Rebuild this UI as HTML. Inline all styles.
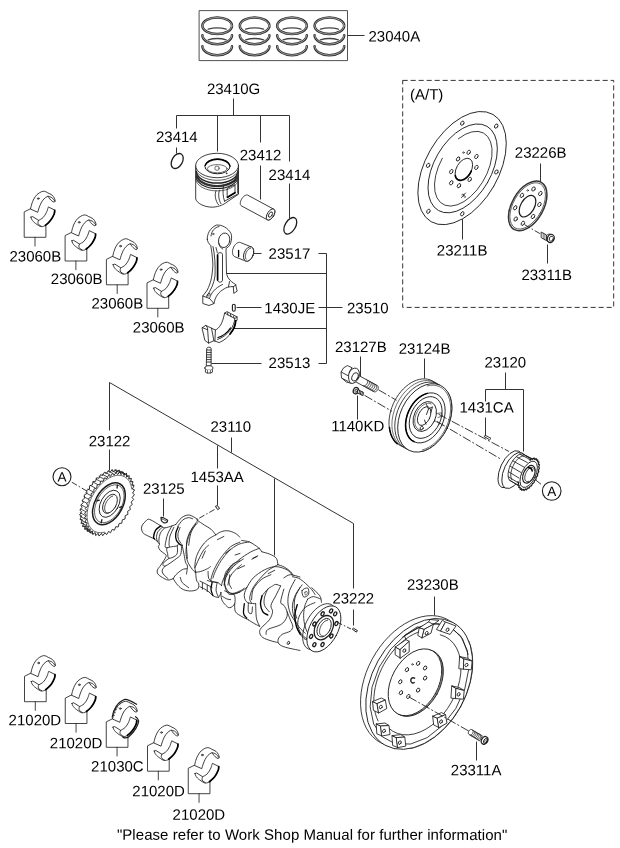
<!DOCTYPE html>
<html><head><meta charset="utf-8">
<style>
html,body{margin:0;padding:0;background:#fff;}
svg{display:block;filter:grayscale(1);}
text{font-family:"Liberation Sans",sans-serif;font-size:15px;fill:#000;}
.l{stroke:#333;stroke-width:1;fill:none;}
.p{stroke:#1c1c1c;stroke-width:0.85;fill:#fff;stroke-linejoin:round;stroke-linecap:round;}
.n{stroke:#1c1c1c;stroke-width:0.85;fill:none;stroke-linejoin:round;stroke-linecap:round;}
.t{stroke:#222;stroke-width:0.65;fill:none;stroke-linecap:round;}
.k{stroke:#000;stroke-width:1.6;fill:none;stroke-linecap:round;}
.dd{stroke:#222;stroke-width:0.9;fill:none;stroke-dasharray:9 2 2 2;}
</style></head>
<body>
<svg width="620" height="848" viewBox="0 0 620 848">
<rect width="620" height="848" fill="#fff"/>
<!--LABELS-->
<g id="labels">
<text transform="translate(368.5 41.5) rotate(0.03)">23040A</text>
<text transform="translate(206.9 94) rotate(0.03)">23410G</text>
<text transform="translate(156 142) rotate(0.03)">23414</text>
<text transform="translate(239.7 160.3) rotate(0.03)">23412</text>
<text transform="translate(268.6 180) rotate(0.03)">23414</text>
<text transform="translate(268.6 258.8) rotate(0.03)">23517</text>
<text transform="translate(264.3 313.3) rotate(0.03)">1430JE</text>
<text transform="translate(347 313.3) rotate(0.03)">23510</text>
<text transform="translate(268.6 368) rotate(0.03)">23513</text>
<text transform="translate(9.5 261.4) rotate(0.03)">23060B</text>
<text transform="translate(50.8 284) rotate(0.03)">23060B</text>
<text transform="translate(91.5 308.5) rotate(0.03)">23060B</text>
<text transform="translate(132.8 332.5) rotate(0.03)">23060B</text>
<text transform="translate(410 99.5) rotate(0.03)">(A/T)</text>
<text transform="translate(436.8 255.4) rotate(0.03)">23211B</text>
<text transform="translate(514.8 157.7) rotate(0.03)">23226B</text>
<text transform="translate(521.4 280) rotate(0.03)">23311B</text>
<text transform="translate(335 352) rotate(0.03)">23127B</text>
<text transform="translate(398.7 353.7) rotate(0.03)">23124B</text>
<text transform="translate(484.5 367.5) rotate(0.03)">23120</text>
<text transform="translate(459.5 412.5) rotate(0.03)">1431CA</text>
<text transform="translate(331.2 431.2) rotate(0.03)">1140KD</text>
<text transform="translate(88.7 446.2) rotate(0.03)">23122</text>
<text transform="translate(210.5 431.7) rotate(0.03)">23110</text>
<text transform="translate(190.5 482) rotate(0.03)">1453AA</text>
<text transform="translate(143 493.7) rotate(0.03)">23125</text>
<text transform="translate(332.4 603.5) rotate(0.03)">23222</text>
<text transform="translate(407 589.7) rotate(0.03)">23230B</text>
<text transform="translate(450.8 775.3) rotate(0.03)">23311A</text>
<text transform="translate(8.6 725.3) rotate(0.03)">21020D</text>
<text transform="translate(49.8 748.3) rotate(0.03)">21020D</text>
<text transform="translate(91.1 771.5) rotate(0.03)">21030C</text>
<text transform="translate(132.3 796.2) rotate(0.03)">21020D</text>
<text transform="translate(172.6 819.7) rotate(0.03)">21020D</text>
<text transform="translate(116.9 839.7) rotate(0.03)" textLength="390.4">"Please refer to Work Shop Manual for further information"</text>
</g>
<!--LEADERS-->
<g id="leaders" class="l">
<path d="M347.5 35.5H364.5"/>
<path d="M233.5 98.5V115.5M176.5 115.5H289.5M176.5 115.5V128.5M176.5 147.5V153.5M217.5 115.5V151.5M260.5 115.5V142.5M260.5 165.5V199.5M289.5 115.5V161.5M289.5 183.5V218.5"/>
<path d="M252.5 253.5H261.5M318.5 253.5H326.5V363.5H318.5M226.5 273.5H326.5M236.5 307.5H261.5M318.5 307.5H342.5M233.5 328.5H326.5M211.5 363.5H261.5"/>
<path d="M462.5 216.5V239.5M540.5 163.5V182.5M547.5 244.5V263.5"/>
<path d="M360.5 356.5V376.5M424.5 358.5V378.5M505.5 372.5V389.5M485.5 401.5V389.5H523.5V451.5M485.5 417.5V437.5M357.5 395.5V419.5"/>
<path d="M109.5 430.5V382.5L353.5 523.5V588.5M353.5 609.5V625.5M109.5 449.5V471.5M231.5 437.5V452.5M217.5 445.5V468.5M217.5 485.5V505.5M274.5 478.5V555.5M163.5 498.5V516.5M434.5 596.5V615.5M476.5 741.5V760.5"/>
</g>
<defs></defs>
<g id="g_rings">
<rect class="n" x="199.5" y="10.6" width="148" height="50" style="stroke:#333"/>
<g style="stroke:#303030;stroke-width:2.5;fill:none;stroke-linecap:round"><ellipse cx="217.2" cy="25.8" rx="14.8" ry="8.3"/><path d="M202.4 35.2A14.8 9 0 0 0 232 35.2"/><path d="M202.4 46.2A14.8 9 0 0 0 232 46.2"/></g>
<g style="stroke:#c8c8c8;stroke-width:0.7;fill:none;stroke-linecap:round"><ellipse cx="217.2" cy="25.8" rx="14.8" ry="8.3"/><path d="M202.4 35.2A14.8 9 0 0 0 232 35.2"/><path d="M202.4 46.2A14.8 9 0 0 0 232 46.2"/></g>
<path class="t" d="M208.2 29.2Q217.2 26.6 226.2 29.2M208.2 39.8Q217.2 37.2 226.2 39.8" style="stroke-width:1.3;stroke:#444"/>
<g style="stroke:#303030;stroke-width:2.5;fill:none;stroke-linecap:round"><ellipse cx="254.6" cy="25.8" rx="14.8" ry="8.3"/><path d="M239.8 35.2A14.8 9 0 0 0 269.4 35.2"/><path d="M239.8 46.2A14.8 9 0 0 0 269.4 46.2"/></g>
<g style="stroke:#c8c8c8;stroke-width:0.7;fill:none;stroke-linecap:round"><ellipse cx="254.6" cy="25.8" rx="14.8" ry="8.3"/><path d="M239.8 35.2A14.8 9 0 0 0 269.4 35.2"/><path d="M239.8 46.2A14.8 9 0 0 0 269.4 46.2"/></g>
<path class="t" d="M245.6 29.2Q254.6 26.6 263.6 29.2M245.6 39.8Q254.6 37.2 263.6 39.8" style="stroke-width:1.3;stroke:#444"/>
<g style="stroke:#303030;stroke-width:2.5;fill:none;stroke-linecap:round"><ellipse cx="292" cy="25.8" rx="14.8" ry="8.3"/><path d="M277.2 35.2A14.8 9 0 0 0 306.8 35.2"/><path d="M277.2 46.2A14.8 9 0 0 0 306.8 46.2"/></g>
<g style="stroke:#c8c8c8;stroke-width:0.7;fill:none;stroke-linecap:round"><ellipse cx="292" cy="25.8" rx="14.8" ry="8.3"/><path d="M277.2 35.2A14.8 9 0 0 0 306.8 35.2"/><path d="M277.2 46.2A14.8 9 0 0 0 306.8 46.2"/></g>
<path class="t" d="M283 29.2Q292 26.6 301 29.2M283 39.8Q292 37.2 301 39.8" style="stroke-width:1.3;stroke:#444"/>
<g style="stroke:#303030;stroke-width:2.5;fill:none;stroke-linecap:round"><ellipse cx="329.4" cy="25.8" rx="14.8" ry="8.3"/><path d="M314.6 35.2A14.8 9 0 0 0 344.2 35.2"/><path d="M314.6 46.2A14.8 9 0 0 0 344.2 46.2"/></g>
<g style="stroke:#c8c8c8;stroke-width:0.7;fill:none;stroke-linecap:round"><ellipse cx="329.4" cy="25.8" rx="14.8" ry="8.3"/><path d="M314.6 35.2A14.8 9 0 0 0 344.2 35.2"/><path d="M314.6 46.2A14.8 9 0 0 0 344.2 46.2"/></g>
<path class="t" d="M320.4 29.2Q329.4 26.6 338.4 29.2M320.4 39.8Q329.4 37.2 338.4 39.8" style="stroke-width:1.3;stroke:#444"/>
</g>
<g id="g_piston_group">
<ellipse class="n" cx="177.2" cy="161" rx="5.2" ry="8.1" transform="rotate(30 177.2 161)" style="stroke-width:1.3"/>
<ellipse class="n" cx="290.3" cy="225.8" rx="5.2" ry="9.1" transform="rotate(31 290.3 225.8)" style="stroke-width:1.3"/>
<g transform="translate(0 0.7)">
<path class="p" d="M195.7 165V198.3C197 203 205 206.5 212.5 206.5C220 206 224 203.5 226 202L238.5 193.5V165Z"/>
<ellipse class="p" cx="217.1" cy="164.8" rx="21.4" ry="12.2"/>
<path d="M195.8 167.4 A21.3 12.2 0 0 0 238.4 167.4" fill="none" stroke="#333" stroke-width="0.8"/>
<path d="M196.15 170.2 A20.95 12.2 0 0 0 238.05 170.2" fill="none" stroke="#222" stroke-width="1.5"/>
<path d="M196.55 173.2 A20.55 12.2 0 0 0 237.65 173.2" fill="none" stroke="#333" stroke-width="2.3"/>
<path d="M195.95 175.6 A21.15 12.2 0 0 0 238.25 175.6" fill="none" stroke="#222" stroke-width="1.1"/>
<path d="M195.8 178 A21.3 12.2 0 0 0 238.4 178" fill="none" stroke="#444" stroke-width="0.8"/>
<ellipse class="n" cx="217.5" cy="165.6" rx="12.6" ry="7.5" style="stroke-width:1"/>
<path class="k" d="M205.2 164.5A12.6 7.5 0 0 1 229.8 164.5" style="stroke-width:1.5"/>
<ellipse class="t" cx="217.3" cy="168" rx="9.9" ry="4.1"/>
<circle class="t" cx="217" cy="167.5" r="2.2"/>
<circle cx="226.7" cy="172.6" r="0.9" fill="#333"/>
<path class="n" d="M216 190C214.5 193 215 200 218.5 204M219.5 189.5C218 193 218.5 199 221 203M223.5 184.5C222.5 190 223 196 224.5 200.5M226 184L236.5 179.5M224.5 200.5L237.5 193.5M227.5 187.5L235 184V192L227.5 196.5Z"/>
<path class="k" d="M227.5 196.5L235 192" style="stroke-width:1.8"/>
<path class="k" d="M238 170V192" style="stroke-width:1.5;stroke:#333"/>
</g>
<path class="p" d="M241.31 205.76 L240.98 205.48 L240.7 205.13 L240.49 204.69 L240.36 204.18 L240.29 203.61 L240.3 202.98 L240.38 202.31 L240.53 201.61 L240.76 200.9 L241.05 200.17 L241.4 199.45 L241.8 198.75 L242.25 198.08 L242.75 197.45 L243.27 196.87 L243.82 196.36 L244.38 195.91 L244.94 195.55 L245.5 195.26 L246.05 195.07 L246.56 194.97 L247.05 194.97 L247.49 195.06 L247.89 195.24 L273.89 209.24 L273.89 209.24 L274.22 209.52 L274.5 209.87 L274.71 210.31 L274.84 210.82 L274.91 211.39 L274.9 212.02 L274.82 212.69 L274.67 213.39 L274.44 214.1 L274.15 214.83 L273.8 215.55 L273.4 216.25 L272.95 216.92 L272.45 217.55 L271.93 218.13 L271.38 218.64 L270.82 219.09 L270.26 219.45 L269.7 219.74 L269.15 219.93 L268.64 220.03 L268.15 220.03 L267.71 219.94 L267.31 219.76 Z"/>
<ellipse class="p" cx="270.6" cy="214.5" rx="3.3" ry="6.2" transform="rotate(32 270.6 214.5)" />
<ellipse class="n" cx="270.5" cy="214.6" rx="1.6" ry="3" transform="rotate(32 270.5 214.6)" />
</g>
<g id="g_conrod">
<path class="p" d="M207.3 239.2C207 234 210 228 216.3 225.1C222 224.5 228 228 231 233.5C232.5 238 231 244 228.7 246.5L226 248.5L226.5 273C227 277 229.5 281 235.5 284.4L237.2 291.1L233.8 293.4L233.3 286.6C229 286.5 226 287.5 224.2 288.9C218.5 292 215 297 214 303.5L209 305.5L202.8 303.5V296L207.3 290C210.5 283 212 279 212.9 265.2C212.5 256 211.5 250 210.7 245.4C208.5 243.5 207.5 241.5 207.3 239.2Z"/>
<path class="n" d="M211 236C211.5 231 214.5 227.5 219 226.5M213 246.5C214.8 255 215.5 265 215 276C214 283.5 211 290 206.5 296.5M202.8 296L209.5 298.5L214 303.5M209.5 298.5C211 293 215 288 222.5 284.5M216 247.5C216.5 250 217 251 217.2 252.5M233.3 286.6L236 285M229.5 281.5L228.5 286.8"/>
<ellipse class="p" cx="224.2" cy="240.3" rx="5.6" ry="7.3" transform="rotate(12 224.2 240.3)" />
<path class="n" d="M218.8 243.5C219.5 246.5 221 248.3 222.7 249"/>
<path class="n" d="M217.5 254.5C217.5 252 222.5 252 222.5 254.5V280C222.5 283 217.5 283 217.5 280Z"/>
<path class="k" d="M217.6 255V280" style="stroke-width:1.7"/>
<circle class="t" cx="213.2" cy="234" r="0.7"/>
<ellipse class="t" cx="208.5" cy="294.8" rx="1.8" ry="1" transform="rotate(-35 208.5 294.8)"/>
<path class="p" d="M234.75 256.65 L234.22 256.36 L233.75 255.96 L233.34 255.45 L233 254.84 L232.74 254.14 L232.57 253.36 L232.48 252.52 L232.48 251.63 L232.57 250.7 L232.74 249.76 L233 248.81 L233.33 247.88 L233.74 246.97 L234.22 246.11 L234.75 245.31 L235.33 244.58 L235.95 243.94 L236.6 243.4 L237.26 242.96 L237.93 242.64 L238.6 242.43 L239.25 242.35 L239.87 242.39 L240.45 242.55 L251.45 246.95 L251.45 246.95 L251.98 247.24 L252.45 247.64 L252.86 248.15 L253.2 248.76 L253.46 249.46 L253.63 250.24 L253.72 251.08 L253.72 251.97 L253.63 252.9 L253.46 253.84 L253.2 254.79 L252.87 255.72 L252.46 256.63 L251.98 257.49 L251.45 258.29 L250.87 259.02 L250.25 259.66 L249.6 260.2 L248.94 260.64 L248.27 260.96 L247.6 261.17 L246.95 261.25 L246.33 261.21 L245.75 261.05 Z"/>
<ellipse class="p" cx="248.6" cy="254" rx="4.6" ry="7.6" transform="rotate(22 248.6 254)" />
<path class="n" d="M246.08 259.14 L245.86 258.79 L245.67 258.38 L245.53 257.94 L245.42 257.46 L245.36 256.94 L245.33 256.39 L245.35 255.82 L245.42 255.24 L245.52 254.64 L245.66 254.04 L245.84 253.44 L246.06 252.85 L246.32 252.27 L246.6 251.72 L246.92 251.19 L247.26 250.68 L247.62 250.22 L248 249.8 L248.39 249.42 L248.8 249.09 L249.21 248.82 L249.62 248.6 L250.04 248.44 L250.44 248.34" />
<path class="k" d="M238.6 250.5V256.5" style="stroke-width:1.3"/>
<rect class="p" x="232.4" y="304.2" width="2.8" height="7" rx="1.4" style="stroke-width:1.1"/>
<path class="p" d="M202.3 327.6L205.7 325.4L215.4 330C219 328.5 222.5 324 224.6 313.1L227 311.6L237.1 316.9V320.3L235.7 320.8C236 327 230 338 219.2 342.6L214.9 341.1L213.9 340.7L208.6 343.1L205.2 340.7Z"/>
<path class="n" d="M215.4 330L214.9 341.1M224.6 313.1L234.8 318.5C234.5 326 228 336 217.5 339.5M205.7 325.4L207.5 327.8L208.6 343.1M202.3 327.6L207.5 329.8M211.5 328.2L213.9 340.7M234.8 318.5L237.1 316.9M227.5 312.8L228 315M230.5 314.2L231 316.8M233.5 316L234 318"/>
<path class="k" d="M235.6 321C235.5 326.5 233 330.5 230 334" style="stroke-width:1.8"/>
<path class="k" d="M218 337.5C223 336 227.5 332.5 230.5 328" style="stroke-width:1.3"/>
<path class="p" d="M206.7 348.5C206.7 346.7 211.1 346.7 211.1 348.5V365.8H206.7Z"/>
<path class="t" d="M206.7 350H211.1M206.7 352.4H211.1M206.7 354.8H211.1M206.7 357.2H211.1M206.7 359.6H211.1M206.7 362H211.1" style="stroke-width:0.9"/>
<path class="p" d="M204.8 368C204.8 366.2 206.5 365.8 208.9 365.8C211.3 365.8 213 366.2 213 368C213 369.8 211 370.3 208.9 370.3C206.8 370.3 204.8 369.8 204.8 368Z"/>
<path class="p" d="M205.4 370V372.2C206.5 373.4 211.3 373.4 212.4 372.2V370"/>
<path class="t" d="M207.5 370.4V373M210.4 370.4V373"/>
</g>
<g id="g_bearings">
<g transform="translate(0 0)"><path class="n" d="M30.6 208.7L24.2 211.9V237.3H45.9V225.6M35 237.3V246" style="stroke:#222"/><path class="p" d="M30.59 208.68C30.79 207.87 31.26 205.45 31.8 203.84C32.33 202.23 32.94 200.55 33.81 199C34.69 197.46 35.76 195.78 37.04 194.57C38.32 193.36 40.2 192.28 41.47 191.75C42.75 191.21 43.62 191.14 44.7 191.34C45.78 191.54 46.72 192.35 47.93 192.95C49.14 193.56 50.88 194.1 51.96 194.97C53.03 195.84 53.84 197.19 54.38 198.2C54.92 199.2 55.25 200.37 55.18 201.02C55.12 201.66 54.51 202.07 53.97 202.07C53.44 202.07 52.63 201.53 51.96 201.02C51.29 200.51 50.55 199.72 49.94 199C49.34 198.29 48.6 197.12 48.33 196.75L48.33 196.75C48.13 196.72 47.86 196.21 47.12 196.58C46.38 196.96 44.9 197.93 43.89 199C42.89 200.08 41.88 201.56 41.07 203.04C40.26 204.51 39.59 206.4 39.05 207.87C38.52 209.35 38.05 211.23 37.85 211.91Z"/><path class="n" d="M48.09 196.26C48.6 196.42 50.26 196.75 51.15 197.23C52.04 197.71 52.79 198.52 53.41 199.16C54.03 199.81 54.62 200.78 54.86 201.1"/><ellipse class="t" cx="38.25" cy="198.6" rx="0.9" ry="0.7" style="stroke-width:0.9"/><path class="p" d="M30.99 217.15 L32.6 216.58 L38.65 220.37C39.39 219.9 41.81 218.83 43.09 217.55C44.36 216.27 45.51 214.26 46.31 212.71C47.12 211.17 47.59 209.25 47.93 208.28C48.26 207.31 48.26 207.13 48.33 206.91L54.78 210.13C54.71 210.7 54.85 212.15 54.38 213.52C53.91 214.89 52.9 216.88 51.96 218.36C51.02 219.84 49.81 221.25 48.73 222.39C47.66 223.53 46.45 224.54 45.51 225.21C44.57 225.88 44.03 226.25 43.09 226.42C42.15 226.6 41.34 226.93 39.86 226.26C38.38 225.59 35.56 223.51 34.22 222.39C32.87 221.27 32.33 220.44 31.8 219.57C31.26 218.69 31.12 217.55 30.99 217.15Z"/><path class="n" d="M38.65 220.37C38.53 220.71 37.91 221.68 37.93 222.39C37.94 223.1 38.17 224.02 38.73 224.65C39.3 225.28 40.88 225.93 41.31 226.18"/><path class="k" d="M54.7 210.29C54.62 210.86 54.7 212.31 54.22 213.68C53.73 215.05 52.74 217.04 51.8 218.52C50.86 220 49.65 221.42 48.57 222.55C47.5 223.68 45.88 224.84 45.35 225.29" style="stroke-width:1.7"/></g>
<g transform="translate(40.9 23.7)"><path class="n" d="M30.6 208.7L24.2 211.9V237.3H45.9V225.6M35 237.3V246" style="stroke:#222"/><path class="p" d="M30.59 208.68C30.79 207.87 31.26 205.45 31.8 203.84C32.33 202.23 32.94 200.55 33.81 199C34.69 197.46 35.76 195.78 37.04 194.57C38.32 193.36 40.2 192.28 41.47 191.75C42.75 191.21 43.62 191.14 44.7 191.34C45.78 191.54 46.72 192.35 47.93 192.95C49.14 193.56 50.88 194.1 51.96 194.97C53.03 195.84 53.84 197.19 54.38 198.2C54.92 199.2 55.25 200.37 55.18 201.02C55.12 201.66 54.51 202.07 53.97 202.07C53.44 202.07 52.63 201.53 51.96 201.02C51.29 200.51 50.55 199.72 49.94 199C49.34 198.29 48.6 197.12 48.33 196.75L48.33 196.75C48.13 196.72 47.86 196.21 47.12 196.58C46.38 196.96 44.9 197.93 43.89 199C42.89 200.08 41.88 201.56 41.07 203.04C40.26 204.51 39.59 206.4 39.05 207.87C38.52 209.35 38.05 211.23 37.85 211.91Z"/><path class="n" d="M48.09 196.26C48.6 196.42 50.26 196.75 51.15 197.23C52.04 197.71 52.79 198.52 53.41 199.16C54.03 199.81 54.62 200.78 54.86 201.1"/><ellipse class="t" cx="38.25" cy="198.6" rx="0.9" ry="0.7" style="stroke-width:0.9"/><path class="p" d="M30.99 217.15 L32.6 216.58 L38.65 220.37C39.39 219.9 41.81 218.83 43.09 217.55C44.36 216.27 45.51 214.26 46.31 212.71C47.12 211.17 47.59 209.25 47.93 208.28C48.26 207.31 48.26 207.13 48.33 206.91L54.78 210.13C54.71 210.7 54.85 212.15 54.38 213.52C53.91 214.89 52.9 216.88 51.96 218.36C51.02 219.84 49.81 221.25 48.73 222.39C47.66 223.53 46.45 224.54 45.51 225.21C44.57 225.88 44.03 226.25 43.09 226.42C42.15 226.6 41.34 226.93 39.86 226.26C38.38 225.59 35.56 223.51 34.22 222.39C32.87 221.27 32.33 220.44 31.8 219.57C31.26 218.69 31.12 217.55 30.99 217.15Z"/><path class="n" d="M38.65 220.37C38.53 220.71 37.91 221.68 37.93 222.39C37.94 223.1 38.17 224.02 38.73 224.65C39.3 225.28 40.88 225.93 41.31 226.18"/><path class="k" d="M54.7 210.29C54.62 210.86 54.7 212.31 54.22 213.68C53.73 215.05 52.74 217.04 51.8 218.52C50.86 220 49.65 221.42 48.57 222.55C47.5 223.68 45.88 224.84 45.35 225.29" style="stroke-width:1.7"/></g>
<g transform="translate(82.2 47.5)"><path class="n" d="M30.6 208.7L24.2 211.9V237.3H45.9V225.6M35 237.3V246" style="stroke:#222"/><path class="p" d="M30.59 208.68C30.79 207.87 31.26 205.45 31.8 203.84C32.33 202.23 32.94 200.55 33.81 199C34.69 197.46 35.76 195.78 37.04 194.57C38.32 193.36 40.2 192.28 41.47 191.75C42.75 191.21 43.62 191.14 44.7 191.34C45.78 191.54 46.72 192.35 47.93 192.95C49.14 193.56 50.88 194.1 51.96 194.97C53.03 195.84 53.84 197.19 54.38 198.2C54.92 199.2 55.25 200.37 55.18 201.02C55.12 201.66 54.51 202.07 53.97 202.07C53.44 202.07 52.63 201.53 51.96 201.02C51.29 200.51 50.55 199.72 49.94 199C49.34 198.29 48.6 197.12 48.33 196.75L48.33 196.75C48.13 196.72 47.86 196.21 47.12 196.58C46.38 196.96 44.9 197.93 43.89 199C42.89 200.08 41.88 201.56 41.07 203.04C40.26 204.51 39.59 206.4 39.05 207.87C38.52 209.35 38.05 211.23 37.85 211.91Z"/><path class="n" d="M48.09 196.26C48.6 196.42 50.26 196.75 51.15 197.23C52.04 197.71 52.79 198.52 53.41 199.16C54.03 199.81 54.62 200.78 54.86 201.1"/><ellipse class="t" cx="38.25" cy="198.6" rx="0.9" ry="0.7" style="stroke-width:0.9"/><path class="p" d="M30.99 217.15 L32.6 216.58 L38.65 220.37C39.39 219.9 41.81 218.83 43.09 217.55C44.36 216.27 45.51 214.26 46.31 212.71C47.12 211.17 47.59 209.25 47.93 208.28C48.26 207.31 48.26 207.13 48.33 206.91L54.78 210.13C54.71 210.7 54.85 212.15 54.38 213.52C53.91 214.89 52.9 216.88 51.96 218.36C51.02 219.84 49.81 221.25 48.73 222.39C47.66 223.53 46.45 224.54 45.51 225.21C44.57 225.88 44.03 226.25 43.09 226.42C42.15 226.6 41.34 226.93 39.86 226.26C38.38 225.59 35.56 223.51 34.22 222.39C32.87 221.27 32.33 220.44 31.8 219.57C31.26 218.69 31.12 217.55 30.99 217.15Z"/><path class="n" d="M38.65 220.37C38.53 220.71 37.91 221.68 37.93 222.39C37.94 223.1 38.17 224.02 38.73 224.65C39.3 225.28 40.88 225.93 41.31 226.18"/><path class="k" d="M54.7 210.29C54.62 210.86 54.7 212.31 54.22 213.68C53.73 215.05 52.74 217.04 51.8 218.52C50.86 220 49.65 221.42 48.57 222.55C47.5 223.68 45.88 224.84 45.35 225.29" style="stroke-width:1.7"/></g>
<g transform="translate(122.8 71)"><path class="n" d="M30.6 208.7L24.2 211.9V237.3H45.9V225.6M35 237.3V246" style="stroke:#222"/><path class="p" d="M30.59 208.68C30.79 207.87 31.26 205.45 31.8 203.84C32.33 202.23 32.94 200.55 33.81 199C34.69 197.46 35.76 195.78 37.04 194.57C38.32 193.36 40.2 192.28 41.47 191.75C42.75 191.21 43.62 191.14 44.7 191.34C45.78 191.54 46.72 192.35 47.93 192.95C49.14 193.56 50.88 194.1 51.96 194.97C53.03 195.84 53.84 197.19 54.38 198.2C54.92 199.2 55.25 200.37 55.18 201.02C55.12 201.66 54.51 202.07 53.97 202.07C53.44 202.07 52.63 201.53 51.96 201.02C51.29 200.51 50.55 199.72 49.94 199C49.34 198.29 48.6 197.12 48.33 196.75L48.33 196.75C48.13 196.72 47.86 196.21 47.12 196.58C46.38 196.96 44.9 197.93 43.89 199C42.89 200.08 41.88 201.56 41.07 203.04C40.26 204.51 39.59 206.4 39.05 207.87C38.52 209.35 38.05 211.23 37.85 211.91Z"/><path class="n" d="M48.09 196.26C48.6 196.42 50.26 196.75 51.15 197.23C52.04 197.71 52.79 198.52 53.41 199.16C54.03 199.81 54.62 200.78 54.86 201.1"/><ellipse class="t" cx="38.25" cy="198.6" rx="0.9" ry="0.7" style="stroke-width:0.9"/><path class="p" d="M30.99 217.15 L32.6 216.58 L38.65 220.37C39.39 219.9 41.81 218.83 43.09 217.55C44.36 216.27 45.51 214.26 46.31 212.71C47.12 211.17 47.59 209.25 47.93 208.28C48.26 207.31 48.26 207.13 48.33 206.91L54.78 210.13C54.71 210.7 54.85 212.15 54.38 213.52C53.91 214.89 52.9 216.88 51.96 218.36C51.02 219.84 49.81 221.25 48.73 222.39C47.66 223.53 46.45 224.54 45.51 225.21C44.57 225.88 44.03 226.25 43.09 226.42C42.15 226.6 41.34 226.93 39.86 226.26C38.38 225.59 35.56 223.51 34.22 222.39C32.87 221.27 32.33 220.44 31.8 219.57C31.26 218.69 31.12 217.55 30.99 217.15Z"/><path class="n" d="M38.65 220.37C38.53 220.71 37.91 221.68 37.93 222.39C37.94 223.1 38.17 224.02 38.73 224.65C39.3 225.28 40.88 225.93 41.31 226.18"/><path class="k" d="M54.7 210.29C54.62 210.86 54.7 212.31 54.22 213.68C53.73 215.05 52.74 217.04 51.8 218.52C50.86 220 49.65 221.42 48.57 222.55C47.5 223.68 45.88 224.84 45.35 225.29" style="stroke-width:1.7"/></g>
<g transform="translate(0.3 464.4)"><path class="n" d="M30.6 208.7L24.2 211.9V237.3H45.9V225.6M35 237.3V246" style="stroke:#222"/><path class="p" d="M30.59 208.68C30.79 207.87 31.26 205.45 31.8 203.84C32.33 202.23 32.94 200.55 33.81 199C34.69 197.46 35.76 195.78 37.04 194.57C38.32 193.36 40.2 192.28 41.47 191.75C42.75 191.21 43.62 191.14 44.7 191.34C45.78 191.54 46.72 192.35 47.93 192.95C49.14 193.56 50.88 194.1 51.96 194.97C53.03 195.84 53.84 197.19 54.38 198.2C54.92 199.2 55.25 200.37 55.18 201.02C55.12 201.66 54.51 202.07 53.97 202.07C53.44 202.07 52.63 201.53 51.96 201.02C51.29 200.51 50.55 199.72 49.94 199C49.34 198.29 48.6 197.12 48.33 196.75L48.33 196.75C48.13 196.72 47.86 196.21 47.12 196.58C46.38 196.96 44.9 197.93 43.89 199C42.89 200.08 41.88 201.56 41.07 203.04C40.26 204.51 39.59 206.4 39.05 207.87C38.52 209.35 38.05 211.23 37.85 211.91Z"/><path class="n" d="M48.09 196.26C48.6 196.42 50.26 196.75 51.15 197.23C52.04 197.71 52.79 198.52 53.41 199.16C54.03 199.81 54.62 200.78 54.86 201.1"/><ellipse class="t" cx="38.25" cy="198.6" rx="0.9" ry="0.7" style="stroke-width:0.9"/><path class="p" d="M30.99 217.15 L32.6 216.58 L38.65 220.37C39.39 219.9 41.81 218.83 43.09 217.55C44.36 216.27 45.51 214.26 46.31 212.71C47.12 211.17 47.59 209.25 47.93 208.28C48.26 207.31 48.26 207.13 48.33 206.91L54.78 210.13C54.71 210.7 54.85 212.15 54.38 213.52C53.91 214.89 52.9 216.88 51.96 218.36C51.02 219.84 49.81 221.25 48.73 222.39C47.66 223.53 46.45 224.54 45.51 225.21C44.57 225.88 44.03 226.25 43.09 226.42C42.15 226.6 41.34 226.93 39.86 226.26C38.38 225.59 35.56 223.51 34.22 222.39C32.87 221.27 32.33 220.44 31.8 219.57C31.26 218.69 31.12 217.55 30.99 217.15Z"/><path class="n" d="M38.65 220.37C38.53 220.71 37.91 221.68 37.93 222.39C37.94 223.1 38.17 224.02 38.73 224.65C39.3 225.28 40.88 225.93 41.31 226.18"/><path class="k" d="M54.7 210.29C54.62 210.86 54.7 212.31 54.22 213.68C53.73 215.05 52.74 217.04 51.8 218.52C50.86 220 49.65 221.42 48.57 222.55C47.5 223.68 45.88 224.84 45.35 225.29" style="stroke-width:1.7"/></g>
<g transform="translate(41.05 486.2)"><path class="n" d="M30.6 208.7L24.2 211.9V237.3H45.9V225.6M35 237.3V246" style="stroke:#222"/><path class="p" d="M30.59 208.68C30.79 207.87 31.26 205.45 31.8 203.84C32.33 202.23 32.94 200.55 33.81 199C34.69 197.46 35.76 195.78 37.04 194.57C38.32 193.36 40.2 192.28 41.47 191.75C42.75 191.21 43.62 191.14 44.7 191.34C45.78 191.54 46.72 192.35 47.93 192.95C49.14 193.56 50.88 194.1 51.96 194.97C53.03 195.84 53.84 197.19 54.38 198.2C54.92 199.2 55.25 200.37 55.18 201.02C55.12 201.66 54.51 202.07 53.97 202.07C53.44 202.07 52.63 201.53 51.96 201.02C51.29 200.51 50.55 199.72 49.94 199C49.34 198.29 48.6 197.12 48.33 196.75L48.33 196.75C48.13 196.72 47.86 196.21 47.12 196.58C46.38 196.96 44.9 197.93 43.89 199C42.89 200.08 41.88 201.56 41.07 203.04C40.26 204.51 39.59 206.4 39.05 207.87C38.52 209.35 38.05 211.23 37.85 211.91Z"/><path class="n" d="M48.09 196.26C48.6 196.42 50.26 196.75 51.15 197.23C52.04 197.71 52.79 198.52 53.41 199.16C54.03 199.81 54.62 200.78 54.86 201.1"/><ellipse class="t" cx="38.25" cy="198.6" rx="0.9" ry="0.7" style="stroke-width:0.9"/><path class="p" d="M30.99 217.15 L32.6 216.58 L38.65 220.37C39.39 219.9 41.81 218.83 43.09 217.55C44.36 216.27 45.51 214.26 46.31 212.71C47.12 211.17 47.59 209.25 47.93 208.28C48.26 207.31 48.26 207.13 48.33 206.91L54.78 210.13C54.71 210.7 54.85 212.15 54.38 213.52C53.91 214.89 52.9 216.88 51.96 218.36C51.02 219.84 49.81 221.25 48.73 222.39C47.66 223.53 46.45 224.54 45.51 225.21C44.57 225.88 44.03 226.25 43.09 226.42C42.15 226.6 41.34 226.93 39.86 226.26C38.38 225.59 35.56 223.51 34.22 222.39C32.87 221.27 32.33 220.44 31.8 219.57C31.26 218.69 31.12 217.55 30.99 217.15Z"/><path class="n" d="M38.65 220.37C38.53 220.71 37.91 221.68 37.93 222.39C37.94 223.1 38.17 224.02 38.73 224.65C39.3 225.28 40.88 225.93 41.31 226.18"/><path class="k" d="M54.7 210.29C54.62 210.86 54.7 212.31 54.22 213.68C53.73 215.05 52.74 217.04 51.8 218.52C50.86 220 49.65 221.42 48.57 222.55C47.5 223.68 45.88 224.84 45.35 225.29" style="stroke-width:1.7"/></g>
<g transform="translate(82.05 510)"><path class="n" d="M30.6 208.7L24.2 211.9V237.3H45.9V225.6M35 237.3V246" style="stroke:#222"/><path class="p" d="M30.59 208.68C30.79 207.87 31.26 205.45 31.8 203.84C32.33 202.23 32.94 200.55 33.81 199C34.69 197.46 35.76 195.78 37.04 194.57C38.32 193.36 40.2 192.28 41.47 191.75C42.75 191.21 43.62 191.14 44.7 191.34C45.78 191.54 46.72 192.35 47.93 192.95C49.14 193.56 50.88 194.1 51.96 194.97C53.03 195.84 53.84 197.19 54.38 198.2C54.92 199.2 55.25 200.37 55.18 201.02C55.12 201.66 54.51 202.07 53.97 202.07C53.44 202.07 52.63 201.53 51.96 201.02C51.29 200.51 50.55 199.72 49.94 199C49.34 198.29 48.6 197.12 48.33 196.75L48.33 196.75C48.13 196.72 47.86 196.21 47.12 196.58C46.38 196.96 44.9 197.93 43.89 199C42.89 200.08 41.88 201.56 41.07 203.04C40.26 204.51 39.59 206.4 39.05 207.87C38.52 209.35 38.05 211.23 37.85 211.91Z"/><path class="n" d="M48.09 196.26C48.6 196.42 50.26 196.75 51.15 197.23C52.04 197.71 52.79 198.52 53.41 199.16C54.03 199.81 54.62 200.78 54.86 201.1"/><ellipse class="t" cx="38.25" cy="198.6" rx="0.9" ry="0.7" style="stroke-width:0.9"/><path class="p" d="M30.99 217.15 L32.6 216.58 L38.65 220.37C39.39 219.9 41.81 218.83 43.09 217.55C44.36 216.27 45.51 214.26 46.31 212.71C47.12 211.17 47.59 209.25 47.93 208.28C48.26 207.31 48.26 207.13 48.33 206.91L54.78 210.13C54.71 210.7 54.85 212.15 54.38 213.52C53.91 214.89 52.9 216.88 51.96 218.36C51.02 219.84 49.81 221.25 48.73 222.39C47.66 223.53 46.45 224.54 45.51 225.21C44.57 225.88 44.03 226.25 43.09 226.42C42.15 226.6 41.34 226.93 39.86 226.26C38.38 225.59 35.56 223.51 34.22 222.39C32.87 221.27 32.33 220.44 31.8 219.57C31.26 218.69 31.12 217.55 30.99 217.15Z"/><path class="n" d="M38.65 220.37C38.53 220.71 37.91 221.68 37.93 222.39C37.94 223.1 38.17 224.02 38.73 224.65C39.3 225.28 40.88 225.93 41.31 226.18"/><path class="k" d="M54.7 210.29C54.62 210.86 54.7 212.31 54.22 213.68C53.73 215.05 52.74 217.04 51.8 218.52C50.86 220 49.65 221.42 48.57 222.55C47.5 223.68 45.88 224.84 45.35 225.29" style="stroke-width:1.7"/></g>
<g transform="translate(82.05 510)"><path class="n" d="M30.2 207C31 199.5 35.8 191.8 42.8 189.4C45 189 48 190.3 54.5 194.2M53.5 206.8C55.5 208 56.5 209.5 56.6 211C56.5 214 53 221.5 46.5 227C45 227.8 42.5 228 41 227.4" style="stroke-width:1.3"/><path class="t" d="M31.2 205L32.5 205.6M32 202L33.4 202.7M33.2 199L34.6 199.8M34.8 196.2L36 197.2M36.8 193.6L38 194.6M39.2 191.6L40.2 192.8"/></g>
<g transform="translate(123.3 533.9)"><path class="n" d="M30.6 208.7L24.2 211.9V237.3H45.9V225.6M35 237.3V246" style="stroke:#222"/><path class="p" d="M30.59 208.68C30.79 207.87 31.26 205.45 31.8 203.84C32.33 202.23 32.94 200.55 33.81 199C34.69 197.46 35.76 195.78 37.04 194.57C38.32 193.36 40.2 192.28 41.47 191.75C42.75 191.21 43.62 191.14 44.7 191.34C45.78 191.54 46.72 192.35 47.93 192.95C49.14 193.56 50.88 194.1 51.96 194.97C53.03 195.84 53.84 197.19 54.38 198.2C54.92 199.2 55.25 200.37 55.18 201.02C55.12 201.66 54.51 202.07 53.97 202.07C53.44 202.07 52.63 201.53 51.96 201.02C51.29 200.51 50.55 199.72 49.94 199C49.34 198.29 48.6 197.12 48.33 196.75L48.33 196.75C48.13 196.72 47.86 196.21 47.12 196.58C46.38 196.96 44.9 197.93 43.89 199C42.89 200.08 41.88 201.56 41.07 203.04C40.26 204.51 39.59 206.4 39.05 207.87C38.52 209.35 38.05 211.23 37.85 211.91Z"/><path class="n" d="M48.09 196.26C48.6 196.42 50.26 196.75 51.15 197.23C52.04 197.71 52.79 198.52 53.41 199.16C54.03 199.81 54.62 200.78 54.86 201.1"/><ellipse class="t" cx="38.25" cy="198.6" rx="0.9" ry="0.7" style="stroke-width:0.9"/><path class="p" d="M30.99 217.15 L32.6 216.58 L38.65 220.37C39.39 219.9 41.81 218.83 43.09 217.55C44.36 216.27 45.51 214.26 46.31 212.71C47.12 211.17 47.59 209.25 47.93 208.28C48.26 207.31 48.26 207.13 48.33 206.91L54.78 210.13C54.71 210.7 54.85 212.15 54.38 213.52C53.91 214.89 52.9 216.88 51.96 218.36C51.02 219.84 49.81 221.25 48.73 222.39C47.66 223.53 46.45 224.54 45.51 225.21C44.57 225.88 44.03 226.25 43.09 226.42C42.15 226.6 41.34 226.93 39.86 226.26C38.38 225.59 35.56 223.51 34.22 222.39C32.87 221.27 32.33 220.44 31.8 219.57C31.26 218.69 31.12 217.55 30.99 217.15Z"/><path class="n" d="M38.65 220.37C38.53 220.71 37.91 221.68 37.93 222.39C37.94 223.1 38.17 224.02 38.73 224.65C39.3 225.28 40.88 225.93 41.31 226.18"/><path class="k" d="M54.7 210.29C54.62 210.86 54.7 212.31 54.22 213.68C53.73 215.05 52.74 217.04 51.8 218.52C50.86 220 49.65 221.42 48.57 222.55C47.5 223.68 45.88 224.84 45.35 225.29" style="stroke-width:1.7"/></g>
<g transform="translate(164.05 556.4)"><path class="n" d="M30.6 208.7L24.2 211.9V237.3H45.9V225.6M35 237.3V246" style="stroke:#222"/><path class="p" d="M30.59 208.68C30.79 207.87 31.26 205.45 31.8 203.84C32.33 202.23 32.94 200.55 33.81 199C34.69 197.46 35.76 195.78 37.04 194.57C38.32 193.36 40.2 192.28 41.47 191.75C42.75 191.21 43.62 191.14 44.7 191.34C45.78 191.54 46.72 192.35 47.93 192.95C49.14 193.56 50.88 194.1 51.96 194.97C53.03 195.84 53.84 197.19 54.38 198.2C54.92 199.2 55.25 200.37 55.18 201.02C55.12 201.66 54.51 202.07 53.97 202.07C53.44 202.07 52.63 201.53 51.96 201.02C51.29 200.51 50.55 199.72 49.94 199C49.34 198.29 48.6 197.12 48.33 196.75L48.33 196.75C48.13 196.72 47.86 196.21 47.12 196.58C46.38 196.96 44.9 197.93 43.89 199C42.89 200.08 41.88 201.56 41.07 203.04C40.26 204.51 39.59 206.4 39.05 207.87C38.52 209.35 38.05 211.23 37.85 211.91Z"/><path class="n" d="M48.09 196.26C48.6 196.42 50.26 196.75 51.15 197.23C52.04 197.71 52.79 198.52 53.41 199.16C54.03 199.81 54.62 200.78 54.86 201.1"/><ellipse class="t" cx="38.25" cy="198.6" rx="0.9" ry="0.7" style="stroke-width:0.9"/><path class="p" d="M30.99 217.15 L32.6 216.58 L38.65 220.37C39.39 219.9 41.81 218.83 43.09 217.55C44.36 216.27 45.51 214.26 46.31 212.71C47.12 211.17 47.59 209.25 47.93 208.28C48.26 207.31 48.26 207.13 48.33 206.91L54.78 210.13C54.71 210.7 54.85 212.15 54.38 213.52C53.91 214.89 52.9 216.88 51.96 218.36C51.02 219.84 49.81 221.25 48.73 222.39C47.66 223.53 46.45 224.54 45.51 225.21C44.57 225.88 44.03 226.25 43.09 226.42C42.15 226.6 41.34 226.93 39.86 226.26C38.38 225.59 35.56 223.51 34.22 222.39C32.87 221.27 32.33 220.44 31.8 219.57C31.26 218.69 31.12 217.55 30.99 217.15Z"/><path class="n" d="M38.65 220.37C38.53 220.71 37.91 221.68 37.93 222.39C37.94 223.1 38.17 224.02 38.73 224.65C39.3 225.28 40.88 225.93 41.31 226.18"/><path class="k" d="M54.7 210.29C54.62 210.86 54.7 212.31 54.22 213.68C53.73 215.05 52.74 217.04 51.8 218.52C50.86 220 49.65 221.42 48.57 222.55C47.5 223.68 45.88 224.84 45.35 225.29" style="stroke-width:1.7"/></g>
</g>
<g id="g_AT">
<rect x="402.7" y="80.4" width="211" height="227" fill="none" stroke="#333" stroke-width="1" stroke-dasharray="5 3"/>
<ellipse class="p" cx="462.1" cy="168.1" rx="36.5" ry="61.9" transform="rotate(30 462.1 168.1)" />
<ellipse class="n" cx="462.7" cy="168.4" rx="28.6" ry="48.6" transform="rotate(30 462.7 168.4)" />
<path class="n" d="M458.46 138.75 L465.2 134.36 L471.85 131.87 L478.02 131.39 L483.38 132.96 L487.64 136.5 L490.57 141.8 L491.99 148.58 L491.85 156.47 L490.13 165.03 L486.94 173.79 L482.45 182.27 L476.91 190 L470.62 196.57 L463.93 201.6 L457.21 204.83 L450.82 206.07 L445.11 205.26 L440.41 202.45 L436.96 197.78 L434.96 191.51 L434.51 183.99 L435.65 175.63 L438.3 166.89 L442.33 158.25" />
<ellipse class="n" cx="463.9" cy="169.3" rx="7.4" ry="12" transform="rotate(30 463.9 169.3)" />
<path class="k" d="M471.25 171.14 L470.75 172.2 L470.18 173.23 L469.54 174.22 L468.86 175.16 L468.12 176.05 L467.35 176.87 L466.54 177.62 L465.71 178.29 L464.86 178.87 L464 179.37 L463.14 179.76 L462.28 180.05 L461.45 180.24 L460.63 180.33 L459.85 180.3 L459.1 180.18 L458.41 179.94 L457.76 179.61 L457.18 179.17 L456.66 178.65 L456.2 178.03 L455.83 177.32 L455.53 176.54 L455.31 175.69" style="stroke-width:1.7"/>
<ellipse class="n" cx="462.3" cy="123.2" rx="1.5" ry="2.3" transform="rotate(30 462.3 123.2)" />
<ellipse class="n" cx="496.2" cy="126.1" rx="1.5" ry="2.3" transform="rotate(30 496.2 126.1)" />
<ellipse class="n" cx="496.4" cy="172" rx="1.5" ry="2.3" transform="rotate(30 496.4 172)" />
<ellipse class="n" cx="462.3" cy="213.8" rx="1.5" ry="2.3" transform="rotate(30 462.3 213.8)" />
<ellipse class="n" cx="428.4" cy="211.3" rx="1.5" ry="2.3" transform="rotate(30 428.4 211.3)" />
<ellipse class="n" cx="428.1" cy="165.4" rx="1.5" ry="2.3" transform="rotate(30 428.1 165.4)" />
<ellipse class="n" cx="468.7" cy="152.3" rx="1.5" ry="2.3" transform="rotate(30 468.7 152.3)" />
<ellipse class="n" cx="476.4" cy="156.5" rx="1.5" ry="2.3" transform="rotate(30 476.4 156.5)" />
<ellipse class="n" cx="476.4" cy="167.4" rx="1.5" ry="2.3" transform="rotate(30 476.4 167.4)" />
<ellipse class="n" cx="469.7" cy="179.4" rx="1.5" ry="2.3" transform="rotate(30 469.7 179.4)" />
<ellipse class="n" cx="459" cy="185.7" rx="1.5" ry="2.3" transform="rotate(30 459 185.7)" />
<ellipse class="n" cx="451.3" cy="182.8" rx="1.5" ry="2.3" transform="rotate(30 451.3 182.8)" />
<ellipse class="n" cx="451.3" cy="171.6" rx="1.5" ry="2.3" transform="rotate(30 451.3 171.6)" />
<ellipse class="n" cx="458.1" cy="159" rx="1.5" ry="2.3" transform="rotate(30 458.1 159)" />
<circle class="t" cx="463.5" cy="152.6" r="0.8"/>
<path class="t" d="M461.5 197.5L465.5 193M461.8 194.6C463 193.4 464.5 194.5 463.4 196.2C464.6 195 466.3 196.3 464.8 197.8" style="stroke-width:0.9"/>
<ellipse class="p" cx="527.7" cy="205.9" rx="15.75" ry="27.2" transform="rotate(30 527.7 205.9)" style="stroke-width:1.5;stroke:#333"/>
<ellipse class="t" cx="527.7" cy="205.9" rx="14.4" ry="25.4" transform="rotate(30 527.7 205.9)" />
<ellipse class="n" cx="527.5" cy="206.2" rx="6.8" ry="11.8" transform="rotate(30 527.5 206.2)" style="stroke-width:1.2"/>
<ellipse class="n" cx="533.5" cy="189" rx="1.5" ry="2.3" transform="rotate(30 533.5 189)" />
<ellipse class="n" cx="540.3" cy="193.5" rx="1.5" ry="2.3" transform="rotate(30 540.3 193.5)" />
<ellipse class="n" cx="539.4" cy="204.5" rx="1.5" ry="2.3" transform="rotate(30 539.4 204.5)" />
<ellipse class="n" cx="533" cy="216.5" rx="1.5" ry="2.3" transform="rotate(30 533 216.5)" />
<ellipse class="n" cx="522.9" cy="223.3" rx="1.5" ry="2.3" transform="rotate(30 522.9 223.3)" />
<ellipse class="n" cx="515.7" cy="219" rx="1.5" ry="2.3" transform="rotate(30 515.7 219)" />
<ellipse class="n" cx="515.2" cy="207.8" rx="1.5" ry="2.3" transform="rotate(30 515.2 207.8)" />
<ellipse class="n" cx="521.9" cy="195.4" rx="1.5" ry="2.3" transform="rotate(30 521.9 195.4)" />
<circle class="t" cx="527.7" cy="190.4" r="0.8"/>
<path class="dd" d="M524.8 224.8L541.6 234.6" style="stroke-dasharray:6 2 1.5 2"/>
<path class="p" d="M541.5 232.2L546.5 235V240.6L541.5 237.8Z"/>
<path class="t" d="M543.2 233.2V238.8M544.9 234.2V239.8"/>
<ellipse class="p" cx="550.8" cy="238.4" rx="3.4" ry="4.2" transform="rotate(20 550.8 238.4)" style="stroke-width:1.2"/>
<ellipse class="n" cx="551.3" cy="238.7" rx="2" ry="2.6" transform="rotate(20 551.3 238.7)" />
<path class="n" d="M546.5 235.5C547.5 234.2 549 233.8 550.5 234.2M546.5 240.6C547.5 242 549 242.6 550.5 242.6"/>
</g>
<g id="g_pulley_group">
<path class="p" d="M356.22 374.15 L377.32 385.55 L377.32 385.55 L377.58 385.73 L377.81 385.96 L377.99 386.24 L378.14 386.55 L378.24 386.9 L378.3 387.28 L378.31 387.68 L378.27 388.1 L378.19 388.53 L378.06 388.95 L377.9 389.37 L377.69 389.78 L377.45 390.17 L377.17 390.53 L376.87 390.86 L376.55 391.15 L376.21 391.39 L375.86 391.59 L375.5 391.74 L375.15 391.83 L374.81 391.87 L374.48 391.85 L374.16 391.77 L373.88 391.65 L352.78 380.25 Z"/>
<path class="t" d="M375.76 384.67 L376.01 384.85 L376.24 385.08 L376.43 385.35 L376.57 385.67 L376.67 386.02 L376.73 386.4 L376.74 386.8 L376.7 387.21 L376.62 387.64 L376.5 388.07 L376.33 388.49 L376.12 388.9 L375.88 389.28 L375.6 389.64 L375.3 389.97 L374.98 390.26 L374.64 390.51 L374.29 390.7 L373.94 390.85 L373.59 390.94 L373.24 390.98 L372.91 390.96 L372.6 390.89 L372.31 390.76" style="stroke-width:0.9"/>
<path class="t" d="M373.93 383.63 L374.19 383.81 L374.41 384.04 L374.6 384.32 L374.74 384.63 L374.84 384.98 L374.9 385.36 L374.91 385.76 L374.88 386.18 L374.8 386.61 L374.67 387.03 L374.5 387.45 L374.29 387.86 L374.05 388.25 L373.78 388.61 L373.48 388.94 L373.15 389.23 L372.81 389.47 L372.46 389.67 L372.11 389.82 L371.76 389.91 L371.41 389.95 L371.08 389.93 L370.77 389.85 L370.48 389.73" style="stroke-width:0.9"/>
<path class="t" d="M372.1 382.6 L372.36 382.78 L372.58 383.01 L372.77 383.28 L372.91 383.6 L373.02 383.95 L373.07 384.33 L373.08 384.73 L373.05 385.15 L372.97 385.57 L372.84 386 L372.67 386.42 L372.47 386.83 L372.22 387.21 L371.95 387.58 L371.65 387.9 L371.33 388.19 L370.99 388.44 L370.64 388.64 L370.28 388.78 L369.93 388.87 L369.58 388.91 L369.25 388.89 L368.94 388.82 L368.65 388.69" style="stroke-width:0.9"/>
<path class="t" d="M370.27 381.57 L370.53 381.75 L370.76 381.97 L370.94 382.25 L371.09 382.56 L371.19 382.91 L371.25 383.29 L371.26 383.69 L371.22 384.11 L371.14 384.54 L371.01 384.96 L370.85 385.39 L370.64 385.79 L370.4 386.18 L370.12 386.54 L369.82 386.87 L369.5 387.16 L369.16 387.4 L368.81 387.6 L368.45 387.75 L368.1 387.84 L367.76 387.88 L367.43 387.86 L367.11 387.79 L366.83 387.66" style="stroke-width:0.9"/>
<path class="t" d="M368.45 380.53 L368.7 380.71 L368.93 380.94 L369.11 381.22 L369.26 381.53 L369.36 381.88 L369.42 382.26 L369.43 382.66 L369.39 383.08 L369.31 383.5 L369.19 383.93 L369.02 384.35 L368.81 384.76 L368.57 385.15 L368.29 385.51 L367.99 385.83 L367.67 386.12 L367.33 386.37 L366.98 386.57 L366.63 386.71 L366.27 386.81 L365.93 386.84 L365.6 386.83 L365.29 386.75 L365 386.62" style="stroke-width:0.9"/>
<path class="t" d="M366.62 379.5 L366.88 379.68 L367.1 379.91 L367.29 380.18 L367.43 380.5 L367.53 380.85 L367.59 381.22 L367.6 381.63 L367.57 382.04 L367.48 382.47 L367.36 382.9 L367.19 383.32 L366.98 383.73 L366.74 384.11 L366.47 384.47 L366.16 384.8 L365.84 385.09 L365.5 385.34 L365.15 385.53 L364.8 385.68 L364.45 385.77 L364.1 385.81 L363.77 385.79 L363.46 385.72 L363.17 385.59" style="stroke-width:0.9"/>
<ellipse class="p" cx="353.6" cy="375.8" rx="5.4" ry="8" transform="rotate(22 353.6 375.8)" />
<ellipse class="n" cx="355" cy="376.9" rx="2.9" ry="4.4" transform="rotate(24 355 376.9)" />
<path class="p" d="M341.2 372L343.5 367.9L347.4 365.6L352.2 367.8C349.5 370 348.2 374 348.6 378C348.9 380.6 349.6 382.2 350.4 383.1L346.3 382L341.8 378.1Z"/>
<path class="n" d="M341.2 372L347.8 375.6M341.8 378.1L348 381.4"/>
<ellipse class="p" cx="355.9" cy="390.6" rx="2.6" ry="3.3" transform="rotate(20 355.9 390.6)" style="stroke-width:1.2"/>
<ellipse class="n" cx="356.2" cy="390.7" rx="1.2" ry="1.6" transform="rotate(20 356.2 390.7)" />
<path class="p" d="M358.3 389.8L363.6 392.6L363 395.6L357.6 393Z"/>
<path class="t" d="M359.6 390.4L359 393.6M361 391.2L360.4 394.3M362.4 391.9L361.8 395" style="stroke-width:0.9"/>
<path class="p" d="M413.68 446.61 L410.93 447.16 L408.23 447.35 L405.62 447.18 L403.11 446.65 L400.74 445.77 L398.54 444.55 L396.51 442.99 L394.7 441.13 L393.1 438.96 L391.75 436.53 L390.66 433.85 L389.83 430.95 L389.28 427.87 L389.01 424.63 L389.02 421.27 L389.32 417.82 L389.9 414.32 L390.76 410.81 L391.88 407.33 L393.26 403.9 L394.87 400.57 L396.71 397.38 L398.75 394.34 L400.98 391.51 L403.36 388.9 L405.88 386.55 L408.5 384.47 L411.21 382.7 L413.97 381.25 L416.74 380.13 L419.52 379.35 L422.25 378.93 L424.92 378.87 L427.5 379.17 L429.96 379.83 L432.27 380.83 L434.42 382.18 L436.37 383.85 L438.11 385.82 L439.61 388.09 L448.31 392.89 L449.23 394.65 L450.02 396.54 L450.68 398.54 L451.2 400.65 L451.58 402.84 L451.82 405.12 L451.92 407.46 L451.87 409.86 L451.68 412.3 L451.35 414.77 L450.88 417.25 L450.27 419.74 L449.52 422.22 L448.65 424.68 L447.64 427.1 L446.52 429.47 L445.28 431.78 L443.94 434.02 L442.49 436.17 L440.95 438.23 L439.33 440.18 L437.62 442.01 L435.85 443.71 L434.03 445.28 L432.15 446.7 L430.23 447.97 L428.29 449.08 L426.32 450.03 L424.35 450.81 L422.38 451.41 Z"/>
<path class="n" d="M412.58 450.5 L408.81 449.82 L405.35 448.36 L402.27 446.16 L399.65 443.26 L397.55 439.73 L396.02 435.66 L395.09 431.13 L394.78 426.27 L395.1 421.17 L396.05 415.95 L397.6 410.75 L399.71 405.67 L402.35 400.84 L405.43 396.37 L408.9 392.37 L412.67 388.92 L416.66 386.11 L420.77 384 L424.9 382.64 L428.97 382.07 L432.87 382.3 L436.52 383.31 L439.82 385.09 L442.71 387.6" />
<path class="t" d="M411.93 448.93 L407.85 448.67 L404.05 447.55 L400.64 445.59 L397.69 442.84 L395.29 439.37 L393.5 435.27 L392.35 430.65 L391.89 425.62 L392.12 420.3 L393.03 414.85 L394.61 409.39 L396.81 404.07 L399.58 399.02 L402.85 394.37 L406.52 390.24 L410.52 386.73 L414.73 383.94 L419.05 381.93 L423.37 380.77 L427.58 380.46 L431.57 381.03 L435.24 382.47 L438.49 384.72 L441.25 387.74" />
<ellipse class="p" cx="424.8" cy="417.9" rx="24.6" ry="36.1" transform="rotate(25.6 424.8 417.9)" />
<path class="k" d="M397.19 443.72 L396.66 443.26 L396.16 442.78 L395.67 442.28 L395.19 441.75 L394.73 441.21 L394.29 440.64 L393.87 440.05 L393.46 439.45 L393.07 438.82 L392.69 438.17 L392.34 437.51 L392 436.82 L391.68 436.12 L391.39 435.4 L391.11 434.66 L390.84 433.91 L390.6 433.14 L390.38 432.36 L390.18 431.56 L390 430.75 L389.84 429.93 L389.7 429.09 L389.58 428.24 L389.48 427.39" style="stroke-width:1.5"/>
<path class="t" d="M427.16 385.9 L430.5 385.29 L433.74 385.23 L436.82 385.73 L439.71 386.79 L442.33 388.37 L444.66 390.46 L446.65 393.02 L448.26 396.01 L449.47 399.37 L450.26 403.05 L450.62 406.98 L450.53 411.1 L450 415.33 L449.04 419.61 L447.67 423.86 L445.9 428.01 L443.78 431.99 L441.33 435.72 L438.59 439.15 L435.62 442.21 L432.47 444.86 L429.18 447.05 L425.82 448.74 L422.44 449.9" />
<ellipse class="n" cx="425.4" cy="417.9" rx="18" ry="26.4" transform="rotate(25.6 425.4 417.9)" />
<path class="k" d="M413.99 441.71 L412.29 440.72 L410.75 439.46 L409.38 437.94 L408.2 436.19 L407.23 434.22 L406.47 432.05 L405.93 429.72 L405.63 427.25 L405.57 424.66 L405.73 421.99 L406.14 419.28 L406.77 416.55 L407.62 413.83 L408.68 411.17 L409.95 408.58 L411.39 406.11 L413.01 403.77 L414.77 401.6 L416.65 399.63 L418.65 397.87 L420.72 396.35 L422.84 395.09 L425 394.1 L427.16 393.39" style="stroke-width:1.5"/>
<ellipse class="n" cx="425.7" cy="417.5" rx="14.9" ry="22" transform="rotate(25.6 425.7 417.5)" />
<ellipse class="n" cx="424.8" cy="416.5" rx="10.6" ry="15.8" transform="rotate(25.6 424.8 416.5)" />
<path class="t" d="M420.51 430.01 L419.27 429.64 L418.14 429.03 L417.15 428.18 L416.3 427.12 L415.62 425.85 L415.13 424.41 L414.82 422.83 L414.71 421.12 L414.8 419.34 L415.08 417.5 L415.55 415.65 L416.21 413.81 L417.04 412.04 L418.02 410.35 L419.13 408.78 L420.36 407.36 L421.68 406.12 L423.06 405.09 L424.48 404.27 L425.92 403.69 L427.34 403.36 L428.71 403.28 L430.02 403.46 L431.24 403.89" />
<ellipse class="n" cx="424.2" cy="416.1" rx="5.8" ry="10" transform="rotate(25.6 424.2 416.1)" />
<ellipse class="n" cx="421.7" cy="428.1" rx="1.4" ry="1.9" transform="rotate(25.6 421.7 428.1)" />
<path class="n" d="M426.5 404.5L428.5 409L432.5 406.8L430.8 412.5M428.5 409L426.5 414.5M424.5 420L426 424.2" style="stroke-width:0.9"/>
<path class="t" d="M436.5 413.5L441.5 412.8L442.5 416L438 417.5M434.5 420.5L438.5 423"/>
<path class="dd" d="M378.5 389.8L396.5 400.3M438.5 414.2L509 451.5M364.5 395.3L392 411.3M437 421.5L501.5 459.5M534 478.7L542 485"/>
<ellipse class="p" cx="510.4" cy="469.3" rx="10" ry="20" transform="rotate(25 510.4 469.3)" />
<ellipse class="p" cx="513.8" cy="470.5" rx="9.6" ry="19.4" transform="rotate(25 513.8 470.5)" />
<path class="p" d="M509.52 480.11 L508.92 479.1 L508.48 477.87 L508.21 476.46 L508.11 474.88 L508.18 473.17 L508.43 471.36 L508.84 469.48 L509.42 467.57 L510.14 465.67 L511 463.81 L511.98 462.02 L513.07 460.34 L514.23 458.79 L515.45 457.42 L516.71 456.24 L517.98 455.28 L519.25 454.56 L520.47 454.08 L521.64 453.86 L522.73 453.9 L534.03 460.4 L535.09 460.73 L536.02 461.36 L536.78 462.27 L537.37 463.45 L537.77 464.85 L537.97 466.47 L537.97 468.25 L537.77 470.17 L537.37 472.18 L536.78 474.23 L536.02 476.28 L535.1 478.29 L534.04 480.22 L532.86 482.01 L531.59 483.64 L530.26 485.06 L528.9 486.25 L527.53 487.18 L526.18 487.83 L524.89 488.19 L523.69 488.24 L522.59 487.99 L521.63 487.45 L520.82 486.61 Z"/>
<path class="n" d="M522.73 453.9 L534.24 459.84"/>
<path class="n" d="M525.53 455.85 L537.15 461.87"/>
<path class="n" d="M509.52 480.11 L520.5 487.1"/>
<path class="n" d="M508.22 476.56 L519.15 483.41"/>
<path class="n" d="M508.38 471.62 L519.32 478.27"/>
<path class="n" d="M509.98 466.07 L520.98 472.5"/>
<path class="n" d="M512.75 460.79 L523.87 467.01"/>
<path class="n" d="M516.27 456.63 L527.52 462.69"/>
<path class="n" d="M519.96 454.25 L531.36 460.21"/>
<path class="n" d="M511.92 479.79 L511.5 479.07 L511.16 478.21 L510.93 477.22 L510.8 476.13 L510.77 474.94 L510.85 473.67 L511.03 472.34 L511.31 470.96 L511.69 469.55 L512.17 468.13 L512.73 466.71 L513.37 465.32 L514.08 463.97 L514.85 462.68 L515.67 461.46 L516.54 460.33 L517.44 459.31 L518.36 458.41 L519.29 457.63 L520.21 457 L521.12 456.51 L522 456.18 L522.84 456 L523.64 455.98" />
<path class="p" d="M529.27 459.77 L530.39 460.23 L531.78 458.46 L532.64 459.42 L534.12 458.01 L534.67 459.42 L536.16 458.47 L536.37 460.25 L537.79 459.81 L537.65 461.86 L538.92 461.94 L538.43 464.15 L539.48 464.76 L538.68 467.01 L539.45 468.1 L538.37 470.26 L538.82 471.79 L537.53 473.74 L537.64 475.61 L536.2 477.25 L535.96 479.37 L534.46 480.6 L533.87 482.84 L532.4 483.6 L531.51 485.84 L530.13 486.09 L528.98 488.2 L527.79 487.92 L526.44 489.8 L525.49 489 L524.03 490.54 L523.38 489.27 L521.88 490.38 L521.55 488.71 L520.1 489.33 L520.13 487.36 L518.79 487.45 L519.17 485.28 L518.04 484.85 L518.75 482.6 L517.87 481.66" style="stroke-width:1.2"/>
<ellipse class="p" cx="528.7" cy="474.3" rx="7" ry="14.2" transform="rotate(25 528.7 474.3)" />
<ellipse class="p" cx="528.9" cy="474.3" rx="5.4" ry="9.4" transform="rotate(25 528.9 474.3)" style="stroke-width:1.2"/>
<path class="n" d="M528.63 481.31 L527.79 481.56 L527.01 481.57 L526.31 481.35 L525.72 480.9 L525.26 480.25 L524.94 479.4 L524.78 478.39 L524.77 477.26 L524.93 476.03 L525.24 474.75 L525.69 473.47 L526.27 472.22 L526.96 471.04 L527.74 469.98 L528.58 469.06 L529.45 468.33 L530.33 467.8 L531.18 467.49 L531.98 467.41 L532.71 467.57 L533.33 467.95 L533.82 468.55 L534.18 469.34 L534.39 470.31" />
<path class="k" d="M528.5 467.8C530.5 467.5 532 469 532.2 471" style="stroke-width:1.6"/>
<path class="p" d="M484.3 436.2L485.6 435.4L491 438.4L489.8 439.5Z" style="stroke-width:0.9"/>
<circle class="p" cx="551.7" cy="491" r="9.3" style="stroke-width:1.1"/>
<text transform="translate(551.7 495.9) rotate(0.03)" text-anchor="middle" style="font-size:13.5px">A</text>
</g>
<g id="g_gear">
<circle class="p" cx="62" cy="476.7" r="9" style="stroke-width:1.1"/>
<text transform="translate(62 481.6) rotate(0.03)" text-anchor="middle" style="font-size:13.5px">A</text>
<path class="dd" d="M71.8 482.2L87.4 491.4" style="stroke-dasharray:6 2 1.5 2"/>
<path class="p" d="M91.37 532.54 L88.77 531.64 L86.45 530.22 L84.43 528.31 L82.77 525.94 L81.48 523.15 L80.59 519.99 L80.11 516.51 L80.05 512.77 L80.41 508.84 L81.19 504.78 L82.37 500.66 L83.93 496.55 L85.85 492.53 L88.09 488.66 L90.61 485.01 L93.38 481.63 L96.34 478.6 L99.44 475.95 L102.63 473.75 L105.86 472.01 L109.07 470.78 L112.2 470.07 L115.21 469.89 L118.03 470.26 L120.63 471.16 L122.95 472.58 L124.97 474.49 L126.63 476.86 L127.92 479.65 L128.81 482.81 L133.61 485.41 L133.95 487.46 L134.14 489.62 L134.18 491.86 L134.06 494.18 L133.79 496.56 L133.37 498.99 L132.81 501.44 L132.1 503.91 L131.25 506.39 L130.27 508.85 L129.16 511.27 L127.93 513.66 L126.58 515.98 L125.13 518.23 L123.59 520.39 L121.95 522.45 L120.24 524.4 L118.47 526.22 L116.63 527.91 L114.76 529.45 L112.85 530.83 L110.92 532.04 L108.98 533.08 L107.05 533.95 L105.13 534.62 L103.24 535.11 L101.38 535.41 L99.58 535.51 L97.84 535.42 L96.17 535.14 Z" style="stroke:none"/>
<path class="n" d="M90.4 532.89 L90.1 529.83 L87.34 531.56 L87.47 528.25 L84.7 529.47 L85.27 526.01 L82.57 526.68 L83.55 523.15 L80.98 523.27 L82.36 519.75 L79.98 519.31 L81.72 515.9 L79.6 514.91 L81.66 511.68 L79.84 510.18 L82.16 507.21 L80.7 505.22 L83.23 502.6 L82.15 500.17 L84.83 497.95 L84.16 495.15 L86.92 493.4 L86.69 490.29 L89.46 489.04 L89.66 485.7 L92.37 484.98 L93.01 481.5 L95.59 481.34 L96.64 477.8 L99.04 478.19 L100.48 474.68 L102.62 475.62 L104.42 472.23 L106.26 473.69 L108.37 470.5 L109.86 472.45 L112.22 469.54 L113.33 471.93 L115.89 469.37 L116.59 472.14 L119.28 469.99 L119.55 473.08 L122.31 471.4 L122.14 474.72 L124.91 473.55 L124.3 477.02 L127 476.39 L125.97 479.93 L128.53 479.86 L127.12 483.37 L129.48 483.86" style="stroke-width:0.9"/>
<path class="t" d="M88.7 531.39 L93.5 533.99" style="stroke-width:0.8"/>
<path class="t" d="M86.43 529.96 L91.23 532.56" style="stroke-width:0.8"/>
<path class="t" d="M84.48 528.07 L89.28 530.67" style="stroke-width:0.8"/>
<path class="t" d="M82.85 525.72 L87.65 528.32" style="stroke-width:0.8"/>
<path class="t" d="M81.6 522.97 L86.4 525.57" style="stroke-width:0.8"/>
<path class="t" d="M80.73 519.86 L85.53 522.46" style="stroke-width:0.8"/>
<path class="t" d="M80.26 516.44 L85.06 519.04" style="stroke-width:0.8"/>
<path class="t" d="M80.2 512.76 L85 515.36" style="stroke-width:0.8"/>
<path class="t" d="M80.55 508.9 L85.35 511.5" style="stroke-width:0.8"/>
<path class="t" d="M81.3 504.92 L86.1 507.52" style="stroke-width:0.8"/>
<path class="t" d="M82.44 500.87 L87.24 503.47" style="stroke-width:0.8"/>
<path class="t" d="M83.96 496.83 L88.76 499.43" style="stroke-width:0.8"/>
<path class="t" d="M85.82 492.87 L90.62 495.47" style="stroke-width:0.8"/>
<path class="t" d="M88 489.05 L92.8 491.65" style="stroke-width:0.8"/>
<path class="t" d="M90.46 485.44 L95.26 488.04" style="stroke-width:0.8"/>
<path class="t" d="M93.16 482.1 L97.96 484.7" style="stroke-width:0.8"/>
<path class="t" d="M96.04 479.07 L100.84 481.67" style="stroke-width:0.8"/>
<path class="t" d="M99.08 476.42 L103.88 479.02" style="stroke-width:0.8"/>
<path class="t" d="M102.21 474.19 L107.01 476.79" style="stroke-width:0.8"/>
<path class="t" d="M105.38 472.42 L110.18 475.02" style="stroke-width:0.8"/>
<path class="t" d="M108.53 471.12 L113.33 473.72" style="stroke-width:0.8"/>
<path class="t" d="M111.63 470.34 L116.43 472.94" style="stroke-width:0.8"/>
<path class="t" d="M114.61 470.07 L119.41 472.67" style="stroke-width:0.8"/>
<path class="t" d="M117.42 470.33 L122.22 472.93" style="stroke-width:0.8"/>
<path class="t" d="M120.02 471.11 L124.82 473.71" style="stroke-width:0.8"/>
<path class="t" d="M122.36 472.39 L127.16 474.99" style="stroke-width:0.8"/>
<path class="t" d="M124.41 474.16 L129.21 476.76" style="stroke-width:0.8"/>
<path class="t" d="M126.13 476.38 L130.93 478.98" style="stroke-width:0.8"/>
<path class="t" d="M127.49 479.02 L132.29 481.62" style="stroke-width:0.8"/>
<path class="t" d="M128.47 482.04 L133.27 484.64" style="stroke-width:0.8"/>
<path class="p" d="M126.53 473.65 L126.44 476.93 L129.21 475.64 L128.69 479.09 L131.4 478.34 L130.46 481.86 L133.05 481.66 L131.71 485.18 L134.12 485.53 L132.42 488.96 L134.59 489.86 L132.57 493.11 L134.43 494.54 L132.14 497.53 L133.67 499.44 L131.16 502.11 L132.31 504.47 L129.65 506.74 L130.38 509.48 L127.64 511.3 L127.95 514.35 L125.18 515.68 L125.05 518.97 L122.34 519.77 L121.78 523.22 L119.18 523.47 L118.2 527 L115.78 526.7 L114.41 530.21 L112.23 529.36 L110.5 532.78 L108.61 531.4 L106.56 534.64 L105.01 532.77 L102.7 535.74 L101.52 533.42 L99 536.06 L98.23 533.36 L95.56 535.59 L95.22 532.57 L92.47 534.35 L92.56 531.07 L89.79 532.36 L90.31 528.91 L87.6 529.66 L88.54 526.14 L85.95 526.34 L87.29 522.82 L84.88 522.47 L86.58 519.04 L84.41 518.14 L86.43 514.89 L84.57 513.46 L86.86 510.47 L85.33 508.56 L87.84 505.89 L86.69 503.53 L89.35 501.26 L88.62 498.52 L91.36 496.7 L91.05 493.65 L93.82 492.32 L93.95 489.03 L96.66 488.23 L97.22 484.78 L99.82 484.53 L100.8 481 L103.22 481.3 L104.59 477.79 L106.77 478.64 L108.5 475.22 L110.39 476.6 L112.44 473.36 L113.99 475.23 L116.3 472.26 L117.48 474.58 L120 471.94 L120.77 474.64 L123.44 472.41 L123.78 475.43 L126.53 473.65 Z" style="stroke-width:0.9"/>
<path class="t" d="M104.52 532.19 L100.64 532.73 L97.05 532.33 L93.88 531 L91.21 528.78 L89.15 525.74 L87.77 521.98 L87.09 517.63 L87.16 512.83 L87.96 507.74 L89.48 502.53 L91.65 497.36 L94.41 492.41 L97.67 487.85 L101.32 483.82 L105.24 480.45 L109.3 477.86 L113.36 476.13 L117.3 475.32 L120.98 475.46 L124.28 476.53 L127.1 478.52 L129.33 481.34 L130.92 484.9 L131.79 489.1" />
<ellipse class="n" cx="108.9" cy="503.8" rx="13.8" ry="22.7" transform="rotate(29.3 108.9 503.8)" style="stroke-width:1.5"/>
<ellipse class="t" cx="109.3" cy="503.8" rx="12.4" ry="20.6" transform="rotate(29.3 109.3 503.8)" />
<ellipse class="n" cx="109.7" cy="503.8" rx="8.9" ry="14.7" transform="rotate(29.3 109.7 503.8)" />
<ellipse class="n" cx="110" cy="503.8" rx="6.2" ry="10.4" transform="rotate(29.3 110 503.8)" />
<path class="n" d="M108.33 512.97 L107.63 512.96 L106.98 512.81 L106.4 512.54 L105.89 512.14 L105.46 511.63 L105.11 511 L104.86 510.27 L104.7 509.46 L104.64 508.56 L104.68 507.6 L104.81 506.6 L105.05 505.56 L105.37 504.5 L105.78 503.44 L106.27 502.4 L106.84 501.38 L107.47 500.42 L108.16 499.51 L108.89 498.68 L109.66 497.93 L110.44 497.28 L111.24 496.75 L112.04 496.33 L112.82 496.03" />
<path class="n" d="M117.35 485.05 L117.09 487.99" style="stroke-width:1.3"/>
<path class="n" d="M121.7 506.66 L119.68 507.4" style="stroke-width:1.3"/>
<path class="n" d="M101.25 522.55 L101.91 519.61" style="stroke-width:1.3"/>
<path class="n" d="M96.9 500.94 L99.32 500.2" style="stroke-width:1.3"/>
<path class="p" d="M161 517.4L163.7 517.9L167.7 520.3C167.6 521.4 167.3 522 166.9 522.3C165.8 522.9 164.6 523 163.7 522.7C162.6 522.2 161.7 521.4 161.3 520.6Z" style="stroke-width:1.1"/>
<path class="t" d="M161.2 519L163.6 519.6L167.3 521.6"/>
<path class="p" d="M215.8 506.2L217.4 505.6L219.6 508.4L218 509.4Z" style="stroke-width:1"/>
<path class="dd" d="M214.5 509.5L196 520" style="stroke-dasharray:6 2 1.5 2"/>
</g>
<g id="g_crank">
<path class="n" d="M160.81 525.91C158.96 524.83 152.18 520.23 149.68 519.42C147.18 518.62 147.02 520.15 145.81 521.07C144.6 521.99 143.15 523.65 142.42 524.94C141.69 526.23 141.37 527.52 141.45 528.81C141.53 530.1 142.26 531.72 142.9 532.69C143.55 533.65 143.39 533.57 145.32 534.62C147.26 535.67 152.99 538.25 154.52 538.98" />
<path class="k" d="M160.81 525.91C159.93 526.64 156.7 528.41 155.49 530.27C154.28 532.12 153.71 535.59 153.55 537.04C153.39 538.49 154.36 538.66 154.52 538.98" style="stroke-width:1.4"/>
<path class="n" d="M162.75 526.88C161.94 527.68 158.96 529.94 157.91 531.72C156.86 533.49 156.54 535.91 156.46 537.53C156.38 539.14 157.26 540.75 157.42 541.4" />
<path class="n" d="M164.69 527.85C163.96 528.73 161.3 531.15 160.33 533.17C159.36 535.19 159.04 538.17 158.88 539.95C158.72 541.72 159.28 543.17 159.36 543.82" />
<path class="n" d="M160.81 525.91C161.46 526.23 162.83 527.85 164.69 527.85C166.54 527.85 170.09 526.47 171.95 525.91C173.8 525.34 175.17 524.7 175.82 524.46" />
<path class="n" d="M154.52 538.98C155.33 539.78 158.72 542.53 159.36 543.82C160.01 545.11 158.23 545.59 158.39 546.72C158.55 547.85 159.36 549.46 160.33 550.59C161.3 551.72 163.23 552.53 164.2 553.5C165.17 554.47 166.7 554.47 166.14 556.4C165.57 558.34 162.27 562.86 160.81 565.12C159.36 567.37 157.91 568.47 157.42 569.96C156.94 571.44 157.1 572.78 157.91 574.02C158.72 575.26 160.59 576.41 162.27 577.41C163.94 578.41 166.15 579.81 167.98 580.02C169.8 580.23 172.33 578.89 173.2 578.67" />
<path class="n" d="M175.82 524.46C176.79 523.33 179.53 519.26 181.63 517.68C183.72 516.1 186.31 515.05 188.4 514.97C190.5 514.89 192.6 516.42 194.21 517.2C195.82 517.97 197.44 519.21 198.08 519.62" />
<path class="n" d="M177.75 526.39C178.56 525.34 180.82 521.55 182.59 520.1C184.37 518.65 186.71 517.89 188.4 517.68C190.1 517.47 192.03 518.65 192.76 518.84" />
<path class="n" d="M171.95 525.91C171.3 527.12 169.04 530.83 168.07 533.17C167.11 535.51 166.62 537.69 166.14 539.95C165.65 542.2 165.01 545.43 165.17 546.72C165.33 548.01 166.78 547.53 167.11 547.69" />
<path class="n" d="M173.88 527.36C173.24 528.81 170.82 533.33 170.01 536.07C169.2 538.82 169.12 542.04 169.04 543.82C168.96 545.59 169.44 546.24 169.53 546.72" />
<path class="k" d="M178.24 526.88C177.83 527.93 176.14 530.99 175.82 533.17C175.5 535.35 175.66 538.09 176.3 539.95C176.95 541.8 178.72 543.41 179.69 544.3C180.66 545.19 181.71 545.11 182.11 545.27" style="stroke-width:1.3"/>
<path class="n" d="M180.17 527.36C179.8 528.41 178.22 531.64 177.95 533.65C177.67 535.67 178 537.85 178.53 539.46C179.06 541.08 180.71 542.69 181.14 543.33" />
<path class="n" d="M167.11 547.69C167.91 547.53 170.25 547.04 171.95 546.72C173.64 546.4 176.22 546.24 177.27 545.75C178.32 545.27 178.08 544.14 178.24 543.82" />
<path class="n" d="M177.27 545.75C177.19 547.21 178.16 552.37 176.79 554.47C175.41 556.56 170.57 558.5 169.04 558.34C167.51 558.18 167.99 554.95 167.59 553.5C167.19 552.05 166.7 550.59 166.62 549.63C166.54 548.66 167.02 548.01 167.11 547.69" />
<path class="n" d="M169.04 558.34C168.07 559.15 163.88 561.89 163.23 563.18C162.59 564.47 162.91 566.89 165.17 566.08C167.43 565.28 174.2 560.27 176.79 558.34C179.37 556.4 179.85 556.4 180.66 554.47C181.46 552.53 181.38 548.25 181.63 546.72C181.87 545.19 182.03 545.51 182.11 545.27" />
<path class="n" d="M165.17 566.08C164.69 566.73 162.59 568.63 162.27 569.96C161.94 571.28 162.27 572.57 163.23 574.02C164.2 575.47 167.27 577.89 168.07 578.67" />
<path class="n" d="M182.11 545.27C182.43 546.8 183.48 551.64 184.05 554.47C184.61 557.29 184.93 560.27 185.5 562.21C186.06 564.15 187.27 564.11 187.43 566.08C187.6 568.05 186.63 572.7 186.47 574.02" />
<path class="n" d="M198.08 522.52C197.12 523.49 193.73 526.55 192.27 528.33C190.82 530.1 190.26 531.23 189.37 533.17C188.48 535.11 187.43 537.69 186.95 539.95C186.47 542.2 186.39 543.66 186.47 546.72C186.55 549.79 187.27 556.4 187.43 558.34" />
<path class="n" d="M197.26 520.32C198.47 521.13 202.23 523.68 204.52 525.16C206.8 526.64 209.09 527.58 210.97 529.19C212.85 530.81 215 533.9 215.81 534.84" />
<path class="n" d="M197.26 521.13C196.32 522.47 193.23 525.97 191.61 529.19C190 532.42 188.52 536.72 187.58 540.48C186.64 544.25 185.97 548.28 185.97 551.77C185.97 555.27 186.51 558.49 187.58 561.45C188.66 564.41 191.08 567.77 192.42 569.52C193.76 571.26 195.11 571.53 195.65 571.94" />
<path class="n" d="M195.65 524.35C194.84 525.83 191.96 529.73 190.81 533.23C189.65 536.72 189.06 543.31 188.71 545.32" />
<path class="n" d="M215.81 534.84C214.46 535.65 210.16 537.66 207.74 539.68C205.32 541.69 203.17 544.11 201.29 546.94C199.41 549.76 197.53 553.39 196.45 556.61C195.38 559.84 194.97 563.74 194.84 566.29C194.7 568.84 195.51 570.99 195.65 571.94" />
<path class="n" d="M215.81 534.84C216.75 534.3 219.44 532.28 221.45 531.61C223.47 530.94 225.62 530.54 227.9 530.81C230.19 531.08 233.15 532.15 235.16 533.23C237.18 534.3 239.19 536.59 240 537.26" />
<path class="n" d="M217.42 539.68 L223.87 536.45" />
<path class="n" d="M202.1 558.23 L205.32 550.97" />
<path class="n" d="M240 542.1C238.39 542.9 233.55 544.25 230.32 546.94C227.1 549.62 223.33 554.46 220.65 558.23C217.96 561.99 215.81 566.02 214.19 569.52C212.58 573.01 211.37 577.04 210.97 579.19C210.56 581.34 211.64 581.88 211.77 582.42" />
<path class="n" d="M240 560.65C238.66 561.32 234.09 562.66 231.94 564.68C229.78 566.69 228.31 569.78 227.1 572.74C225.89 575.7 224.81 579.46 224.68 582.42C224.54 585.38 225.35 588.47 226.29 590.48C227.23 592.5 228.04 594.25 230.32 594.52C232.61 594.78 238.39 592.5 240 592.1" />
<path class="n" d="M240 553.39 L235.16 555" />
<path class="n" d="M225.48 553.39 L230.32 549.35" />
<path class="n" d="M173.23 578.71C173.98 579.78 176.02 583.33 177.74 585.16C179.46 586.99 181.29 588.71 183.55 589.68C185.81 590.65 188.92 591.08 191.29 590.97C193.66 590.86 196.51 590.22 197.74 589.03C198.98 587.85 198.92 585.38 198.71 583.87C198.49 582.37 196.96 581.99 196.45 580C195.94 578.01 195.78 573.28 195.65 571.94" />
<path class="n" d="M173.23 578.71C173.66 578.06 174.3 576.34 175.81 574.84C177.31 573.33 180.43 570.7 182.26 569.68C184.09 568.66 186.02 568.87 186.77 568.71" />
<path class="n" d="M180.32 577.42C180.65 578.28 180.86 580.86 182.26 582.58C183.66 584.3 187.63 586.88 188.71 587.74" />
<path class="n" d="M249.19 541.9C247.43 542.31 241.99 542.83 238.61 544.35C235.24 545.88 231.86 548.33 228.94 551.06C226.01 553.8 223.34 557.34 221.06 560.74C218.78 564.14 216.61 568.55 215.26 571.45C213.9 574.35 213.32 577.04 212.94 578.16" />
<path class="n" d="M259.52 548.23C258.01 548.87 253.92 550.16 250.48 552.1C247.04 554.03 242.31 557.04 238.87 559.84C235.43 562.63 232.42 565.65 229.84 568.87C227.26 572.1 224.78 576.4 223.39 579.19C221.99 581.99 221.77 584.57 221.45 585.65" />
<path class="n" d="M243.39 558.94C242.25 559.73 238.66 561.95 236.55 563.71C234.44 565.47 232.51 567.26 230.74 569.52C228.98 571.77 227.09 574.68 225.97 577.26C224.85 579.84 224.35 583.71 224.03 585" />
<path class="n" d="M241.45 564.74C240.33 565.71 236.68 568.46 234.74 570.55C232.81 572.63 230.98 574.85 229.84 577.26C228.7 579.67 228.23 583.71 227.9 585" />
<path class="n" d="M195 572.35C195.97 572.2 198.7 572.08 200.81 571.45C202.91 570.83 206.03 569.43 207.65 568.61C209.26 567.8 210.01 566.89 210.48 566.55" />
<path class="n" d="M208.55 545.26C207.73 546.08 205.26 547.88 203.65 550.16C202.03 552.44 200.31 556.03 198.87 558.94C197.43 561.84 195.65 566.14 195 567.58" />
<path class="n" d="M251.77 559.19 L256.94 556.61" />
<path class="n" d="M237.58 568.87 L244.68 565.65" />
<path class="n" d="M207.26 580.48C208.01 580.7 210.05 581.45 211.77 581.77C213.49 582.1 215.97 581.77 217.58 582.42C219.19 583.06 220.81 585.11 221.45 585.65" />
<path class="n" d="M224.68 590.81C225.97 591.24 229.84 593.39 232.42 593.39C235 593.39 238.23 591.67 240.16 590.81C242.1 589.95 243.39 588.66 244.03 588.23" />
<path class="n" d="M241.61 540.48C242.96 540.75 246.85 540.89 249.68 542.1C252.5 543.31 256.53 546.13 258.55 547.74C260.56 549.35 261.24 551.1 261.77 551.77" />
<path class="n" d="M261.77 551.77C263.12 552.18 267.42 553.12 269.84 554.19C272.26 555.27 274.95 556.48 276.29 558.23C277.63 559.97 277.63 563.6 277.9 564.68" />
<path class="n" d="M277.9 564.68C278.98 565.08 282.2 565.89 284.35 567.1C286.51 568.31 289.33 570.46 290.81 571.94C292.28 573.41 292.82 575.3 293.23 575.97" />
<path class="n" d="M277.9 564.68C276.29 565.62 271.18 568.04 268.23 570.32C265.27 572.61 262.72 575.43 260.16 578.39C257.61 581.34 254.65 584.84 252.9 588.06C251.16 591.29 249.95 595.32 249.68 597.74C249.41 600.16 251.02 601.77 251.29 602.58" />
<path class="n" d="M268.23 573.55 L274.68 570.32" />
<path class="n" d="M252.9 558.23 L257.74 555.81" />
<path class="n" d="M292.42 576.77C293.49 577.04 296.72 577.31 298.87 578.39C301.02 579.46 303.17 581.34 305.32 583.23C307.47 585.11 310.16 587.8 311.77 589.68C313.39 591.56 314.46 593.71 315 594.52" />
<path class="n" d="M302.1 584.84C301.02 586.45 297.26 591.02 295.65 594.52C294.03 598.01 292.69 602.04 292.42 605.81C292.15 609.57 292.96 613.6 294.03 617.1C295.11 620.59 296.99 624.09 298.87 626.77C300.75 629.46 304.25 632.15 305.32 633.23" />
<path class="n" d="M302.1 590.48C302.77 589.01 306.67 587.39 307.74 588.06C308.82 588.74 309.22 593.04 308.55 594.52C307.88 595.99 304.78 597.61 303.71 596.94C302.63 596.26 301.42 591.96 302.1 590.48Z" />
<path class="t" d="M305 592.1C305.27 591.56 306.56 591.26 306.94 591.61C307.31 591.96 307.53 593.66 307.26 594.19C306.99 594.73 305.7 595.19 305.32 594.84C304.95 594.49 304.73 592.63 305 592.1Z" />
<path class="n" d="M315 602.58C313.39 603.39 308.01 605 305.32 607.42C302.63 609.84 300.08 613.87 298.87 617.1C297.66 620.32 297.53 623.82 298.06 626.77C298.6 629.73 300.35 632.63 302.1 634.84C303.84 637.04 307.47 639.14 308.55 640" />
<path class="n" d="M208.06 571.45C208.2 572.66 207.93 576.96 208.87 578.71C209.81 580.46 212.23 581.26 213.71 581.94C215.19 582.61 217.07 582.61 217.74 582.74" />
<path class="n" d="M200 581.13C201.08 581.67 204.44 583.28 206.45 584.35C208.47 585.43 211.16 587.04 212.1 587.58" />
<path class="n" d="M200 586.77C200.81 587.18 203.23 588.25 204.84 589.19C206.45 590.13 208.87 591.88 209.68 592.42" />
<path class="n" d="M202.42 582.74 L202.42 589.19" />
<path class="n" d="M207.26 585.16 L207.26 591.61" />
<path class="k" d="M212.1 582.74C211.91 583.82 210.83 587.04 210.97 589.19C211.1 591.34 212.58 594.57 212.9 595.65" style="stroke-width:1.3"/>
<path class="n" d="M216.94 583.55C216.8 584.76 215.86 588.52 216.13 590.81C216.4 593.09 218.15 596.18 218.55 597.26" />
<path class="n" d="M209.68 592.42C210.22 592.96 211.42 594.84 212.9 595.65C214.38 596.45 217.2 597.8 218.55 597.26C219.89 596.72 220.56 593.23 220.97 592.42" />
<path class="n" d="M232.26 565C231.18 566.21 227.15 569.57 225.81 572.26C224.46 574.95 224.06 578.31 224.19 581.13C224.33 583.95 225.27 587.04 226.61 589.19C227.96 591.34 229.97 593.63 232.26 594.03C234.54 594.44 237.9 592.69 240.32 591.61C242.74 590.54 245.7 588.25 246.77 587.58" />
<path class="n" d="M229.84 574.68C229.7 576.02 228.76 580.46 229.03 582.74C229.3 585.03 231.05 587.45 231.45 588.39" />
<path class="n" d="M220.97 592.42C221.1 593.63 220.97 597.53 221.77 599.68C222.58 601.83 224.46 603.98 225.81 605.32C227.15 606.67 228.36 608.01 229.84 607.74C231.32 607.47 233.87 605.73 234.68 603.71C235.48 601.69 235.08 597.26 234.68 595.65C234.27 594.03 232.66 594.3 232.26 594.03" />
<path class="n" d="M222.58 596.45C223.25 596.85 225.27 598.33 226.61 598.87C227.96 599.41 229.97 599.54 230.65 599.68" />
<path class="n" d="M246.77 587.58C246.37 588.66 244.62 592.02 244.35 594.03C244.09 596.05 244.49 598.2 245.16 599.68C245.83 601.16 246.64 602.23 248.39 602.9C250.13 603.58 254.44 603.58 255.65 603.71" />
<path class="n" d="M246.77 587.58C247.85 585.97 250.27 580.86 253.23 577.9C256.18 574.95 260.75 571.72 264.52 569.84C268.28 567.96 272.04 566.61 275.81 566.61C279.57 566.61 284.41 568.49 287.1 569.84C289.78 571.18 291.13 573.87 291.94 574.68" />
<path class="n" d="M251.61 599.68C251.88 597.93 251.61 592.55 253.23 589.19C254.84 585.83 258.33 581.94 261.29 579.52C264.25 577.1 269.35 575.48 270.97 574.68" />
<path class="n" d="M234.68 603.71C234.81 605.05 234.27 609.62 235.48 611.77C236.69 613.92 239.78 615.27 241.94 616.61C244.09 617.96 247.31 619.3 248.39 619.84" />
<path class="k" d="M244.35 603.71C244.22 605.32 243.15 610.97 243.55 613.39C243.95 615.81 246.24 617.42 246.77 618.23" style="stroke-width:1.3"/>
<path class="n" d="M248.39 602.9C248.39 604.38 247.85 610.03 248.39 611.77C248.92 613.52 250.94 614.19 251.61 613.39C252.28 612.58 252.28 608.01 252.42 606.94" />
<path class="n" d="M255.65 603.71C255.78 606.13 255.78 614.46 256.45 618.23C257.12 621.99 259.14 624.95 259.68 626.29" />
<path class="n" d="M248.39 619.84C249.46 620.51 252.96 622.8 254.84 623.87C256.72 624.95 258.87 625.89 259.68 626.29" />
<path class="k" d="M262.1 595.65C261.83 596.99 260.35 601.02 260.48 603.71C260.62 606.4 261.69 609.89 262.9 611.77C264.11 613.66 266.94 614.46 267.74 615" style="stroke-width:1.4"/>
<path class="n" d="M267.74 589.19C267.2 590.54 265.05 594.57 264.52 597.26C263.98 599.95 263.71 602.9 264.52 605.32C265.32 607.74 268.55 610.7 269.35 611.77" />
<path class="n" d="M262.1 595.65C263.04 594.57 265.99 590.81 267.74 589.19C269.49 587.58 271.24 586.77 272.58 585.97C273.92 585.16 274.46 584.35 275.81 584.35C277.15 584.35 279.84 585.7 280.65 585.97" />
<path class="n" d="M280.65 585.97C279.84 587.58 277.42 592.42 275.81 595.65C274.19 598.87 271.51 602.63 270.97 605.32C270.43 608.01 272.85 609.35 272.58 611.77C272.31 614.19 271.24 617.15 269.35 619.84C267.47 622.53 262.9 625.75 261.29 627.9C259.68 630.05 259.41 631.13 259.68 632.74C259.95 634.35 261.02 636.24 262.9 637.58C264.78 638.92 268.55 640 270.97 640.81C273.39 641.61 276.34 642.15 277.42 642.42" />
<path class="n" d="M283.87 589.19C283.33 591.34 280.65 599.41 280.65 602.1C280.65 604.78 282.8 603.71 283.87 605.32C284.95 606.94 286.69 609.62 287.1 611.77C287.5 613.92 287.37 616.08 286.29 618.23C285.22 620.38 283.74 622.8 280.65 624.68C277.55 626.56 270.16 627.9 267.74 629.52C265.32 631.13 266.4 633.55 266.13 634.35" />
<path class="n" d="M287.1 611.77C287.63 613.12 289.38 617.42 290.32 619.84C291.26 622.26 292.74 624.41 292.74 626.29C292.74 628.17 292.07 629.78 290.32 631.13C288.58 632.47 284.27 633.01 282.26 634.35C280.24 635.7 278.76 637.58 278.23 639.19C277.69 640.81 277.82 642.69 279.03 644.03C280.24 645.38 281.99 646.18 285.48 647.26C288.98 648.33 297.58 649.95 300 650.48" />
<path class="n" d="M295.16 579.52C294.22 581.4 290.73 587.04 289.52 590.81C288.31 594.57 287.77 598.33 287.9 602.1C288.04 605.86 289.11 610.16 290.32 613.39C291.53 616.61 294.35 620.11 295.16 621.45" />
<path class="n" d="M300 587.58C299.19 589.19 296.1 593.76 295.16 597.26C294.22 600.75 294.09 605.05 294.35 608.55C294.62 612.04 296.37 616.61 296.77 618.23" />
<path class="n" d="M283.87 577.9C284.95 577.37 287.63 574.81 290.32 574.68C293.01 574.54 298.39 576.69 300 577.1" />
<path class="n" d="M311.77 587.74C313.12 589.09 318.23 593.39 319.84 595.81C321.45 598.23 321.18 601.18 321.45 602.26" />
<path class="k" d="M297.26 604.68C296.85 606.42 294.97 611.53 294.84 615.16C294.7 618.79 295.51 623.23 296.45 626.45C297.39 629.68 299.81 633.17 300.48 634.52" style="stroke-width:1.4"/>
<path class="n" d="M307.74 599.03C307.2 600.38 305.19 603.87 304.52 607.1C303.84 610.32 303.44 614.62 303.71 618.39C303.98 622.15 304.92 626.45 306.13 629.68C307.34 632.9 310.16 636.4 310.97 637.74" />
<path class="n" d="M307.74 599.03C308.68 598.63 311.24 596.61 313.39 596.61C315.54 596.61 319.44 598.63 320.65 599.03" />
<path class="n" d="M300.48 634.52C301.29 635.32 303.58 638.82 305.32 639.35C307.07 639.89 310.03 638.01 310.97 637.74" />
<ellipse class="n" cx="288.4" cy="642.9" rx="1.1" ry="1.7" transform="rotate(25 288.4 642.9)" />
<path class="n" d="M310.29 649.58 L308.24 648.91 L306.45 647.73 L304.97 646.05 L303.84 643.93 L303.07 641.4 L302.7 638.53 L302.71 635.39 L303.13 632.04 L303.93 628.57 L305.09 625.06 L306.6 621.59 L308.41 618.23 L310.48 615.07 L312.77 612.18 L315.22 609.63 L317.77 607.48 L320.37 605.77 L322.96 604.55 L325.46 603.85 L327.84 603.68 L330.02 604.04 L331.96 604.93 L333.62 606.33 L334.96 608.21" />
<ellipse class="p" cx="323.9" cy="628.9" rx="14" ry="25" transform="rotate(28 323.9 628.9)" />
<ellipse class="n" cx="323.9" cy="627.7" rx="8.6" ry="13" transform="rotate(28 323.9 627.7)" style="stroke-width:1.3"/>
<ellipse class="n" cx="324.1" cy="627.7" rx="6.2" ry="10" transform="rotate(28 324.1 627.7)" />
<path class="n" d="M323.22 636.04 L322.51 636.02 L321.86 635.87 L321.27 635.58 L320.76 635.17 L320.32 634.64 L319.98 633.99 L319.72 633.24 L319.57 632.41 L319.52 631.5 L319.57 630.53 L319.72 629.52 L319.97 628.49 L320.32 627.45 L320.75 626.42 L321.27 625.42 L321.85 624.47 L322.5 623.58 L323.21 622.76 L323.95 622.04 L324.71 621.42 L325.49 620.92 L326.28 620.53 L327.04 620.28 L327.78 620.16" />
<ellipse class="n" cx="335.22" cy="613.85" rx="1.4" ry="2.1" transform="rotate(28 335.22 613.85)" style="stroke-width:1.3"/>
<ellipse class="n" cx="336.41" cy="623.55" rx="1.4" ry="2.1" transform="rotate(28 336.41 623.55)" style="stroke-width:1.3"/>
<ellipse class="n" cx="331.39" cy="636.02" rx="1.4" ry="2.1" transform="rotate(28 331.39 636.02)" style="stroke-width:1.3"/>
<ellipse class="n" cx="322.52" cy="644.53" rx="1.4" ry="2.1" transform="rotate(28 322.52 644.53)" style="stroke-width:1.3"/>
<ellipse class="n" cx="314.36" cy="644.69" rx="1.4" ry="2.1" transform="rotate(28 314.36 644.69)" style="stroke-width:1.3"/>
<ellipse class="n" cx="311.1" cy="636.44" rx="1.4" ry="2.1" transform="rotate(28 311.1 636.44)" style="stroke-width:1.3"/>
<ellipse class="n" cx="314.41" cy="624.01" rx="1.4" ry="2.1" transform="rotate(28 314.41 624.01)" style="stroke-width:1.3"/>
<ellipse class="n" cx="322.6" cy="613.78" rx="1.4" ry="2.1" transform="rotate(28 322.6 613.78)" style="stroke-width:1.3"/>
<ellipse class="n" cx="331.09" cy="610.93" rx="1.4" ry="2.1" transform="rotate(28 331.09 610.93)" style="stroke-width:1.3"/>
<path class="dd" d="M337.6 622.4L351 629" style="stroke-dasharray:5 2 1.5 2"/>
<path class="p" d="M352.6 628.9L353.4 628.2L357.4 630.6L356.6 631.8Z" style="stroke-width:1"/>
</g>
<g id="g_flywheel">
<path class="p" d="M405.21 745.59 L399.79 746.36 L394.52 746.44 L389.46 745.8 L384.67 744.47 L380.2 742.46 L376.08 739.78 L372.38 736.48 L369.12 732.57 L366.35 728.11 L364.09 723.14 L362.37 717.72 L361.21 711.91 L360.61 705.76 L360.59 699.34 L361.15 692.73 L362.27 685.99 L363.95 679.2 L366.17 672.43 L368.91 665.75 L372.13 659.24 L375.8 652.96 L379.89 646.99 L384.34 641.38 L389.11 636.2 L394.15 631.5 L399.41 627.33 L404.82 623.75 L410.33 620.78 L415.88 618.46 L421.41 616.82 L426.86 615.87 L432.17 615.62 L437.28 616.07 L442.15 617.23 L446.71 619.07 L450.92 621.58 L454.73 624.73 L458.1 628.49 L461 632.81 L463.39 637.66 L468.59 640.56 L469.92 644.14 L470.99 647.93 L471.8 651.89 L472.35 656.02 L472.63 660.28 L472.64 664.67 L472.39 669.16 L471.86 673.71 L471.07 678.32 L470.02 682.96 L468.71 687.6 L467.15 692.23 L465.35 696.81 L463.32 701.33 L461.07 705.76 L458.6 710.08 L455.94 714.27 L453.09 718.31 L450.08 722.17 L446.9 725.84 L443.59 729.3 L440.15 732.53 L436.61 735.52 L432.98 738.25 L429.28 740.7 L425.53 742.87 L421.75 744.74 L417.96 746.31 L414.17 747.56 L410.41 748.49 Z"/>
<ellipse class="p" cx="419.2" cy="683.95" rx="47.2" ry="70.1" transform="rotate(29 419.2 683.95)" />
<path class="n" d="M402.21 637.46 L418.37 627.38 L434.66 623.59 L449.27 626.52 L460.58 635.83 L467.33 650.51 L468.78 668.91 L464.77 689 L455.74 708.55 L442.69 725.4 L427.07 737.68 L410.61 744.02 L395.14 743.72 L382.36 736.82 L373.71 724.08 L370.13 706.91 L372.02 687.22 L379.18 667.19 L390.81 649.04 L405.62 634.78 L421.97 626 L438.04 623.66 L452.06 628.03 L462.47 638.62 L468.11 654.25" />
<path class="n" d="M440.23 634.8 L445.2 636.64 L449.63 639.49 L453.43 643.29 L456.52 647.95 L458.84 653.39 L460.34 659.48 L460.99 666.1 L460.77 673.11 L459.68 680.36 L457.75 687.69 L455.03 694.96 L451.56 702 L447.43 708.67 L442.71 714.83 L437.51 720.35 L431.94 725.11 L426.12 729.02 L420.16 731.98 L414.2 733.94 L408.36 734.85 L402.76 734.7 L397.52 733.48 L392.76 731.24 L388.57 728" />
<path class="n" d="M378.09 720.88 L376.59 717.4 L375.41 713.66 L374.55 709.68 L374.02 705.51 L373.82 701.16 L373.96 696.68 L374.42 692.09 L375.22 687.44 L376.34 682.75 L377.78 678.07 L379.52 673.42 L381.55 668.85 L383.85 664.39 L386.41 660.07 L389.22 655.92 L392.23 651.99 L395.44 648.29 L398.83 644.86 L402.35 641.71 L405.99 638.89 L409.72 636.39 L413.51 634.26 L417.33 632.5 L421.16 631.12" />
<ellipse class="p" cx="416.6" cy="682.9" rx="23.3" ry="36" transform="rotate(29 416.6 682.9)" />
<path class="t" d="M439.17 656.88 L440.69 659.89 L441.79 663.29 L442.44 667.02 L442.63 671.01 L442.36 675.21 L441.65 679.53 L440.48 683.91 L438.9 688.26 L436.92 692.51 L434.58 696.6 L431.92 700.44 L428.98 703.98 L425.82 707.16 L422.48 709.91 L419.03 712.2 L415.53 713.98 L412.03 715.22 L408.59 715.91 L405.28 716.03 L402.15 715.57 L399.25 714.55 L396.64 712.98 L394.35 710.9 L392.43 708.32" />
<ellipse class="p" cx="415" cy="682.3" rx="23.3" ry="36" transform="rotate(29 415 682.3)" />
<ellipse class="n" cx="418.1" cy="663.4" rx="1.5" ry="2.2" transform="rotate(29 418.1 663.4)" />
<ellipse class="n" cx="425.1" cy="668" rx="1.5" ry="2.2" transform="rotate(29 425.1 668)" />
<ellipse class="n" cx="425.1" cy="678.1" rx="1.5" ry="2.2" transform="rotate(29 425.1 678.1)" />
<ellipse class="n" cx="418.1" cy="690.2" rx="1.5" ry="2.2" transform="rotate(29 418.1 690.2)" />
<ellipse class="n" cx="408.3" cy="696.5" rx="1.5" ry="2.2" transform="rotate(29 408.3 696.5)" />
<ellipse class="n" cx="401" cy="692.7" rx="1.5" ry="2.2" transform="rotate(29 401 692.7)" />
<ellipse class="n" cx="400.3" cy="681.8" rx="1.5" ry="2.2" transform="rotate(29 400.3 681.8)" />
<ellipse class="n" cx="407" cy="669.7" rx="1.5" ry="2.2" transform="rotate(29 407 669.7)" />
<circle class="t" cx="412.5" cy="664.4" r="0.8"/>
<path class="n" d="M414.6 678.2C412.5 676.8 410.6 678.6 410.8 680.8C411 682.8 413 683.6 414.2 682.4" style="stroke-width:1.4"/>
<path class="p" d="M395.5 646.9 L400.3 649.4 L400.3 658.2 L395.5 655 Z"/>
<path class="p" d="M395.5 646.9 L406 639.7 L409.2 641.3 L400.3 649.4 Z"/>
<path class="p" d="M400.3 649.4 L409.2 641.3 L409.2 651.8 L400.3 658.2 Z"/>
<ellipse class="n" cx="404.4" cy="650.6" rx="1.3" ry="1.9" transform="rotate(29 404.4 650.6)" />
<path class="p" d="M419.7 627.6 L424.5 629.2 L422.1 638 L418.1 635.6 Z"/>
<path class="p" d="M419.7 627.6 L428.5 621.9 L433.4 624.3 L424.5 629.2 Z"/>
<path class="p" d="M424.5 629.2 L433.4 624.3 L431 633.2 L422.1 638 Z"/>
<ellipse class="n" cx="426.6" cy="633.2" rx="1.3" ry="1.9" transform="rotate(29 426.6 633.2)" />
<path class="p" d="M436.6 629.2 L442.3 620.3 L445.5 622 L440.7 630.8 Z"/>
<path class="p" d="M440.7 630.8 L445.5 622 L456 626 L450.3 634.1 Z"/>
<ellipse class="n" cx="447.6" cy="629.7" rx="1.3" ry="1.9" transform="rotate(29 447.6 629.7)" />
<path class="p" d="M460 656.6 L464.1 659 L463.8 669.2 L459.2 668.7 Z"/>
<path class="p" d="M460 656.6 L467.3 658.2 L472.1 661.1 L464.1 659 Z"/>
<path class="p" d="M464.1 659 L472.1 661.1 L471.3 669.8 L463.8 669.2 Z"/>
<ellipse class="n" cx="466.5" cy="665" rx="1.3" ry="1.9" transform="rotate(29 466.5 665)" />
<path class="p" d="M452.1 686 L456.2 688.4 L455.9 698.6 L451.3 698.1 Z"/>
<path class="p" d="M452.1 686 L459.4 687.6 L464.2 690.5 L456.2 688.4 Z"/>
<path class="p" d="M456.2 688.4 L464.2 690.5 L463.4 699.2 L455.9 698.6 Z"/>
<ellipse class="n" cx="458.6" cy="694.4" rx="1.3" ry="1.9" transform="rotate(29 458.6 694.4)" />
<path class="p" d="M433 716.1 L437.5 718.1 L439 727.6 L434 725.1 Z"/>
<path class="p" d="M433 716.1 L441.5 712.6 L445.5 714.6 L437.5 718.1 Z"/>
<path class="p" d="M437.5 718.1 L445.5 714.6 L447 723.1 L439 727.6 Z"/>
<ellipse class="n" cx="441" cy="721.6" rx="1.3" ry="1.9" transform="rotate(29 441 721.6)" />
<path class="p" d="M392.3 735.6 L396.6 737.6 L397.8 747.6 L393 745.6 Z"/>
<path class="p" d="M392.3 735.6 L400.8 734.6 L404.8 737.1 L396.6 737.6 Z"/>
<path class="p" d="M396.6 737.6 L404.8 737.1 L405.8 746.1 L397.8 747.6 Z"/>
<ellipse class="n" cx="399.8" cy="742.6" rx="1.3" ry="1.9" transform="rotate(29 399.8 742.6)" />
<path class="p" d="M376.5 724 L380.8 726 L382 736 L377.2 734 Z"/>
<path class="p" d="M376.5 724 L385 723 L389 725.5 L380.8 726 Z"/>
<path class="p" d="M380.8 726 L389 725.5 L390 734.5 L382 736 Z"/>
<ellipse class="n" cx="384" cy="731" rx="1.3" ry="1.9" transform="rotate(29 384 731)" />
<path class="p" d="M372.8 701.5 L377.3 703.5 L378.8 713 L373.8 710.5 Z"/>
<path class="p" d="M372.8 701.5 L381.3 698 L385.3 700 L377.3 703.5 Z"/>
<path class="p" d="M377.3 703.5 L385.3 700 L386.8 708.5 L378.8 713 Z"/>
<ellipse class="n" cx="380.8" cy="707" rx="1.3" ry="1.9" transform="rotate(29 380.8 707)" />
<path class="n" d="M428.5 621.9L430.1 619.5L439 620.3L433.4 624.4"/>
<path class="n" d="M406 639.7L404.4 635.6L417.3 626.8L419.7 627.6"/>
<path class="dd" d="M408.7 696.8L469.7 731.6"/>
<path class="p" d="M468.85 734.24 L468.54 733.95 L468.34 733.52 L468.27 732.99 L468.32 732.38 L468.51 731.73 L468.81 731.1 L469.21 730.52 L469.68 730.04 L470.17 729.68 L470.68 729.48 L471.15 729.43 L471.55 729.56 L482.35 735.86 L479.65 740.54 Z"/>
<path class="t" d="M472.59 730.16 L472.76 730.29 L472.9 730.45 L473.02 730.65 L473.1 730.88 L473.15 731.13 L473.17 731.41 L473.16 731.71 L473.11 732.02 L473.04 732.34 L472.93 732.67 L472.79 732.99 L472.62 733.3 L472.44 733.6 L472.23 733.88 L472 734.13 L471.76 734.36 L471.52 734.56 L471.26 734.72 L471.01 734.84 L470.76 734.92 L470.52 734.97 L470.29 734.97 L470.08 734.92 L469.89 734.84" style="stroke-width:0.9"/>
<path class="t" d="M474.06 731.01 L474.23 731.14 L474.37 731.3 L474.49 731.5 L474.57 731.73 L474.63 731.98 L474.65 732.26 L474.63 732.56 L474.59 732.87 L474.51 733.19 L474.4 733.52 L474.26 733.84 L474.1 734.15 L473.91 734.45 L473.7 734.73 L473.47 734.98 L473.24 735.21 L472.99 735.41 L472.74 735.57 L472.48 735.69 L472.24 735.77 L471.99 735.82 L471.77 735.82 L471.55 735.77 L471.36 735.69" style="stroke-width:0.9"/>
<path class="t" d="M475.53 731.86 L475.7 731.99 L475.85 732.15 L475.96 732.35 L476.05 732.57 L476.1 732.83 L476.12 733.11 L476.1 733.41 L476.06 733.72 L475.98 734.04 L475.87 734.37 L475.73 734.69 L475.57 735 L475.38 735.3 L475.17 735.58 L474.95 735.83 L474.71 736.06 L474.46 736.26 L474.21 736.42 L473.96 736.54 L473.71 736.62 L473.47 736.67 L473.24 736.67 L473.03 736.62 L472.83 736.54" style="stroke-width:0.9"/>
<path class="t" d="M477.01 732.71 L477.18 732.84 L477.32 733 L477.43 733.2 L477.52 733.42 L477.57 733.68 L477.59 733.96 L477.58 734.26 L477.53 734.57 L477.45 734.89 L477.34 735.22 L477.21 735.54 L477.04 735.85 L476.85 736.15 L476.64 736.43 L476.42 736.68 L476.18 736.91 L475.93 737.11 L475.68 737.27 L475.43 737.39 L475.18 737.47 L474.94 737.52 L474.71 737.52 L474.5 737.47 L474.31 737.39" style="stroke-width:0.9"/>
<path class="t" d="M478.48 733.56 L478.65 733.69 L478.79 733.85 L478.91 734.05 L478.99 734.27 L479.04 734.53 L479.06 734.81 L479.05 735.11 L479 735.42 L478.92 735.74 L478.82 736.07 L478.68 736.39 L478.51 736.7 L478.33 737 L478.12 737.28 L477.89 737.53 L477.65 737.76 L477.41 737.96 L477.15 738.12 L476.9 738.24 L476.65 738.32 L476.41 738.37 L476.18 738.37 L475.97 738.32 L475.78 738.24" style="stroke-width:0.9"/>
<path class="t" d="M479.95 734.41 L480.12 734.54 L480.26 734.7 L480.38 734.9 L480.46 735.12 L480.51 735.38 L480.53 735.66 L480.52 735.96 L480.48 736.27 L480.4 736.59 L480.29 736.92 L480.15 737.24 L479.99 737.55 L479.8 737.85 L479.59 738.13 L479.36 738.38 L479.13 738.61 L478.88 738.81 L478.63 738.97 L478.37 739.09 L478.12 739.17 L477.88 739.22 L477.65 739.22 L477.44 739.17 L477.25 739.09" style="stroke-width:0.9"/>
<ellipse class="p" cx="484.6" cy="740.4" rx="3" ry="4" transform="rotate(30 484.6 740.4)" style="stroke-width:1.2"/>
<ellipse class="n" cx="485.6" cy="741" rx="1.9" ry="2.6" transform="rotate(30 485.6 741)" />
<ellipse class="t" cx="485.8" cy="741.1" rx="1" ry="1.4" transform="rotate(30 485.8 741.1)" />
</g>
</svg>
</body></html>
